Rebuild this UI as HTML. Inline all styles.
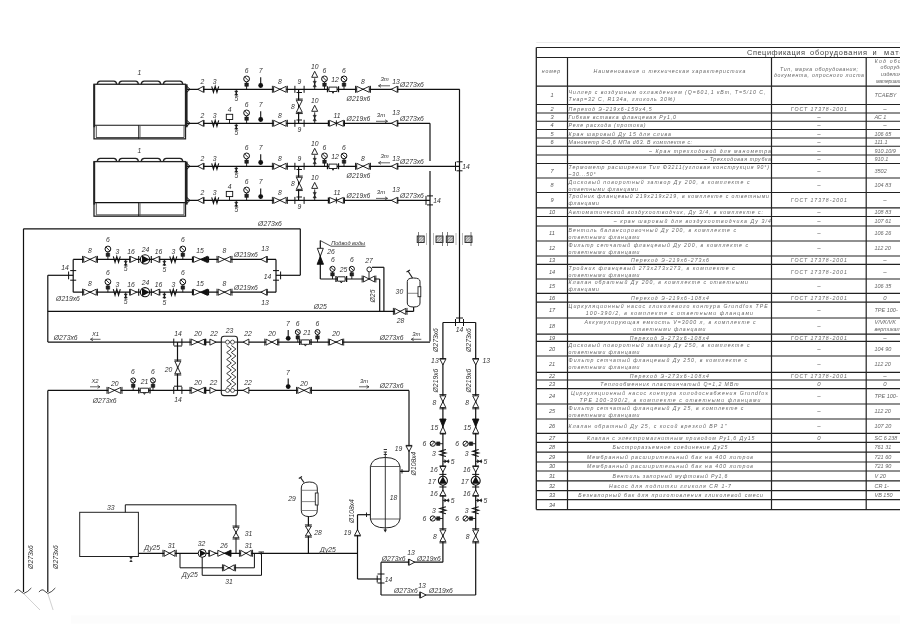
<!DOCTYPE html><html><head><meta charset="utf-8"><style>
html,body{margin:0;padding:0;background:#fff;width:900px;height:640px;overflow:hidden}
svg{display:block;font-family:"Liberation Sans",sans-serif;will-change:transform}
</style></head><body>
<svg width="900" height="640" viewBox="0 0 900 640">
<defs><pattern id="hatch" width="2" height="2" patternUnits="userSpaceOnUse" patternTransform="rotate(45)"><rect width="2" height="2" fill="#ddd"/><line x1="0" y1="0" x2="0" y2="2" stroke="#555" stroke-width="1"/></pattern></defs><rect width="900" height="640" fill="#fff"/>
<rect x="71" y="615.5" width="829" height="8" fill="#fcfcfc"/>
<line x1="536.30" y1="42.50" x2="905.00" y2="42.50" stroke="#e6e6e6" stroke-width="0.8"/>
<line x1="536.30" y1="47.50" x2="905.00" y2="47.50" stroke="#222" stroke-width="1.2"/>
<line x1="536.30" y1="57.50" x2="905.00" y2="57.50" stroke="#222" stroke-width="1.2"/>
<line x1="536.30" y1="86.20" x2="905.00" y2="86.20" stroke="#222" stroke-width="1.2"/>
<line x1="536.30" y1="104.50" x2="905.00" y2="104.50" stroke="#222" stroke-width="1.2"/>
<line x1="536.30" y1="113.00" x2="905.00" y2="113.00" stroke="#222" stroke-width="1.2"/>
<line x1="536.30" y1="121.25" x2="905.00" y2="121.25" stroke="#222" stroke-width="1.2"/>
<line x1="536.30" y1="129.50" x2="905.00" y2="129.50" stroke="#222" stroke-width="1.2"/>
<line x1="536.30" y1="138.00" x2="905.00" y2="138.00" stroke="#222" stroke-width="1.2"/>
<line x1="536.30" y1="146.25" x2="905.00" y2="146.25" stroke="#222" stroke-width="1.2"/>
<line x1="536.30" y1="155.00" x2="905.00" y2="155.00" stroke="#222" stroke-width="1.2"/>
<line x1="536.30" y1="163.50" x2="905.00" y2="163.50" stroke="#222" stroke-width="1.2"/>
<line x1="536.30" y1="178.00" x2="905.00" y2="178.00" stroke="#222" stroke-width="1.2"/>
<line x1="536.30" y1="192.50" x2="905.00" y2="192.50" stroke="#222" stroke-width="1.2"/>
<line x1="536.30" y1="207.80" x2="905.00" y2="207.80" stroke="#222" stroke-width="1.2"/>
<line x1="536.30" y1="216.50" x2="905.00" y2="216.50" stroke="#222" stroke-width="1.2"/>
<line x1="536.30" y1="226.00" x2="905.00" y2="226.00" stroke="#222" stroke-width="1.2"/>
<line x1="536.30" y1="241.00" x2="905.00" y2="241.00" stroke="#222" stroke-width="1.2"/>
<line x1="536.30" y1="256.00" x2="905.00" y2="256.00" stroke="#222" stroke-width="1.2"/>
<line x1="536.30" y1="264.40" x2="905.00" y2="264.40" stroke="#222" stroke-width="1.2"/>
<line x1="536.30" y1="279.00" x2="905.00" y2="279.00" stroke="#222" stroke-width="1.2"/>
<line x1="536.30" y1="293.30" x2="905.00" y2="293.30" stroke="#222" stroke-width="1.2"/>
<line x1="536.30" y1="302.20" x2="905.00" y2="302.20" stroke="#222" stroke-width="1.2"/>
<line x1="536.30" y1="318.00" x2="905.00" y2="318.00" stroke="#222" stroke-width="1.2"/>
<line x1="536.30" y1="334.20" x2="905.00" y2="334.20" stroke="#222" stroke-width="1.2"/>
<line x1="536.30" y1="341.40" x2="905.00" y2="341.40" stroke="#222" stroke-width="1.2"/>
<line x1="536.30" y1="356.00" x2="905.00" y2="356.00" stroke="#222" stroke-width="1.2"/>
<line x1="536.30" y1="372.30" x2="905.00" y2="372.30" stroke="#222" stroke-width="1.2"/>
<line x1="536.30" y1="380.00" x2="905.00" y2="380.00" stroke="#222" stroke-width="1.2"/>
<line x1="536.30" y1="388.60" x2="905.00" y2="388.60" stroke="#222" stroke-width="1.2"/>
<line x1="536.30" y1="404.00" x2="905.00" y2="404.00" stroke="#222" stroke-width="1.2"/>
<line x1="536.30" y1="419.00" x2="905.00" y2="419.00" stroke="#222" stroke-width="1.2"/>
<line x1="536.30" y1="433.30" x2="905.00" y2="433.30" stroke="#222" stroke-width="1.2"/>
<line x1="536.30" y1="442.30" x2="905.00" y2="442.30" stroke="#222" stroke-width="1.2"/>
<line x1="536.30" y1="452.10" x2="905.00" y2="452.10" stroke="#222" stroke-width="1.2"/>
<line x1="536.30" y1="462.00" x2="905.00" y2="462.00" stroke="#222" stroke-width="1.2"/>
<line x1="536.30" y1="471.00" x2="905.00" y2="471.00" stroke="#222" stroke-width="1.2"/>
<line x1="536.30" y1="480.90" x2="905.00" y2="480.90" stroke="#222" stroke-width="1.2"/>
<line x1="536.30" y1="490.70" x2="905.00" y2="490.70" stroke="#222" stroke-width="1.2"/>
<line x1="536.30" y1="499.70" x2="905.00" y2="499.70" stroke="#222" stroke-width="1.2"/>
<line x1="536.30" y1="509.60" x2="905.00" y2="509.60" stroke="#222" stroke-width="1.2"/>
<line x1="536.30" y1="47.50" x2="536.30" y2="509.60" stroke="#222" stroke-width="1.3"/>
<line x1="567.50" y1="57.50" x2="567.50" y2="509.60" stroke="#222" stroke-width="1.2"/>
<line x1="771.50" y1="57.50" x2="771.50" y2="509.60" stroke="#222" stroke-width="1.2"/>
<line x1="866.20" y1="57.50" x2="866.20" y2="509.60" stroke="#222" stroke-width="1.2"/>
<rect x="94" y="84.25" width="91.5" height="54.6" fill="none" stroke="#222" stroke-width="1.3"/>
<line x1="94.00" y1="125.25" x2="185.50" y2="125.25" stroke="#111" stroke-width="1.2"/>
<line x1="96.30" y1="125.25" x2="96.30" y2="137.25" stroke="#444" stroke-width="0.9"/>
<line x1="184.00" y1="125.25" x2="184.00" y2="137.25" stroke="#444" stroke-width="0.9"/>
<line x1="96.00" y1="137.55" x2="184.00" y2="137.55" stroke="#444" stroke-width="1"/>
<line x1="138.70" y1="125.25" x2="138.70" y2="138.85" stroke="#111" stroke-width="0.9"/>
<line x1="140.00" y1="125.25" x2="140.00" y2="138.85" stroke="#555" stroke-width="0.9"/>
<line x1="186.40" y1="84.25" x2="186.40" y2="127.25" stroke="#222" stroke-width="2.4"/>
<line x1="94.30" y1="84.25" x2="94.30" y2="127.25" stroke="#222" stroke-width="1.8"/>
<path d="M97.3,84.25 Q97.3,81.05 100.3,81.05 H113.8 Q116.6,81.05 116.6,84.25" fill="none" stroke="#222" stroke-width="1.3"/>
<path d="M119,84.25 Q119,81.05 122,81.05 H135.5 Q138.3,81.05 138.3,84.25" fill="none" stroke="#222" stroke-width="1.3"/>
<path d="M141.3,84.25 Q141.3,81.05 144.3,81.05 H157.8 Q160.60000000000002,81.05 160.60000000000002,84.25" fill="none" stroke="#222" stroke-width="1.3"/>
<path d="M163.4,84.25 Q163.4,81.05 166.4,81.05 H179.9 Q182.70000000000002,81.05 182.70000000000002,84.25" fill="none" stroke="#222" stroke-width="1.3"/>
<rect x="94" y="161.6" width="91.5" height="54.6" fill="none" stroke="#222" stroke-width="1.3"/>
<line x1="94.00" y1="202.60" x2="185.50" y2="202.60" stroke="#111" stroke-width="1.2"/>
<line x1="96.30" y1="202.60" x2="96.30" y2="214.60" stroke="#444" stroke-width="0.9"/>
<line x1="184.00" y1="202.60" x2="184.00" y2="214.60" stroke="#444" stroke-width="0.9"/>
<line x1="96.00" y1="214.90" x2="184.00" y2="214.90" stroke="#444" stroke-width="1"/>
<line x1="138.70" y1="202.60" x2="138.70" y2="216.20" stroke="#111" stroke-width="0.9"/>
<line x1="140.00" y1="202.60" x2="140.00" y2="216.20" stroke="#555" stroke-width="0.9"/>
<line x1="186.40" y1="161.60" x2="186.40" y2="204.60" stroke="#222" stroke-width="2.4"/>
<line x1="94.30" y1="161.60" x2="94.30" y2="204.60" stroke="#222" stroke-width="1.8"/>
<path d="M97.3,161.6 Q97.3,158.4 100.3,158.4 H113.8 Q116.6,158.4 116.6,161.6" fill="none" stroke="#222" stroke-width="1.3"/>
<path d="M119,161.6 Q119,158.4 122,158.4 H135.5 Q138.3,158.4 138.3,161.6" fill="none" stroke="#222" stroke-width="1.3"/>
<path d="M141.3,161.6 Q141.3,158.4 144.3,158.4 H157.8 Q160.60000000000002,158.4 160.60000000000002,161.6" fill="none" stroke="#222" stroke-width="1.3"/>
<path d="M163.4,161.6 Q163.4,158.4 166.4,158.4 H179.9 Q182.70000000000002,158.4 182.70000000000002,161.6" fill="none" stroke="#222" stroke-width="1.3"/>
<line x1="187.00" y1="89.30" x2="459.70" y2="89.30" stroke="#111" stroke-width="1.2"/>
<line x1="187.00" y1="123.30" x2="430.00" y2="123.30" stroke="#111" stroke-width="1.2"/>
<line x1="187.00" y1="166.30" x2="459.50" y2="166.30" stroke="#111" stroke-width="1.2"/>
<line x1="187.00" y1="200.40" x2="430.00" y2="200.40" stroke="#111" stroke-width="1.2"/>
<line x1="459.50" y1="89.30" x2="459.50" y2="322.50" stroke="#111" stroke-width="1.2"/>
<line x1="430.00" y1="123.30" x2="430.00" y2="161.00" stroke="#111" stroke-width="1.2"/>
<line x1="430.00" y1="171.00" x2="430.00" y2="341.60" stroke="#111" stroke-width="1.2"/>
<line x1="298.60" y1="89.30" x2="298.60" y2="123.30" stroke="#111" stroke-width="1.2"/>
<line x1="298.60" y1="166.30" x2="298.60" y2="200.40" stroke="#111" stroke-width="1.2"/>
<line x1="23.50" y1="228.80" x2="300.30" y2="228.80" stroke="#111" stroke-width="1.2"/>
<line x1="300.30" y1="228.80" x2="300.30" y2="275.30" stroke="#111" stroke-width="1.2"/>
<line x1="276.00" y1="275.30" x2="300.30" y2="275.30" stroke="#111" stroke-width="1.2"/>
<line x1="23.50" y1="228.80" x2="23.50" y2="592.00" stroke="#111" stroke-width="1.2"/>
<line x1="47.80" y1="275.30" x2="73.20" y2="275.30" stroke="#111" stroke-width="1.2"/>
<line x1="73.20" y1="259.40" x2="73.20" y2="292.20" stroke="#111" stroke-width="1.2"/>
<line x1="73.20" y1="259.40" x2="276.00" y2="259.40" stroke="#111" stroke-width="1.2"/>
<line x1="73.20" y1="292.20" x2="276.00" y2="292.20" stroke="#111" stroke-width="1.2"/>
<line x1="276.00" y1="259.40" x2="276.00" y2="292.20" stroke="#111" stroke-width="1.2"/>
<line x1="47.80" y1="275.30" x2="47.80" y2="342.10" stroke="#111" stroke-width="1.2"/>
<line x1="47.80" y1="311.40" x2="413.60" y2="311.40" stroke="#111" stroke-width="1.2"/>
<line x1="413.60" y1="311.40" x2="413.60" y2="306.50" stroke="#111" stroke-width="1.2"/>
<line x1="47.80" y1="342.10" x2="430.00" y2="342.10" stroke="#111" stroke-width="1.2"/>
<line x1="47.80" y1="390.40" x2="409.00" y2="390.40" stroke="#111" stroke-width="1.2"/>
<line x1="409.00" y1="390.40" x2="409.00" y2="471.30" stroke="#111" stroke-width="1.2"/>
<line x1="400.00" y1="471.30" x2="409.00" y2="471.30" stroke="#111" stroke-width="1.2"/>
<line x1="47.80" y1="390.40" x2="47.80" y2="592.00" stroke="#111" stroke-width="1.2"/>
<line x1="177.50" y1="342.10" x2="177.50" y2="390.40" stroke="#111" stroke-width="1.2"/>
<line x1="442.90" y1="322.50" x2="475.70" y2="322.50" stroke="#111" stroke-width="1.2"/>
<line x1="442.90" y1="322.50" x2="442.90" y2="562.20" stroke="#111" stroke-width="1.2"/>
<line x1="475.70" y1="322.50" x2="475.70" y2="595.00" stroke="#111" stroke-width="1.2"/>
<line x1="381.00" y1="562.20" x2="442.90" y2="562.20" stroke="#111" stroke-width="1.2"/>
<line x1="381.00" y1="595.00" x2="475.70" y2="595.00" stroke="#111" stroke-width="1.2"/>
<line x1="381.00" y1="562.20" x2="381.00" y2="595.00" stroke="#111" stroke-width="1.2"/>
<line x1="357.50" y1="579.00" x2="381.00" y2="579.00" stroke="#111" stroke-width="1.2"/>
<line x1="357.50" y1="514.70" x2="357.50" y2="579.00" stroke="#111" stroke-width="1.2"/>
<line x1="357.50" y1="514.70" x2="370.40" y2="514.70" stroke="#111" stroke-width="1.2"/>
<line x1="138.40" y1="553.30" x2="357.50" y2="553.30" stroke="#111" stroke-width="1.2"/>
<rect x="79.7" y="512.3" width="58.7" height="44.2" fill="none" stroke="#222" stroke-width="1"/>
<polyline points="125.30,512.30 125.30,504.80 236.00,504.80 236.00,553.30" stroke="#111" stroke-width="1" fill="none"/>
<polyline points="180.00,553.30 180.00,567.80 254.40,567.80 254.40,553.30" stroke="#111" stroke-width="1" fill="none"/>
<polyline points="202.20,553.30 202.20,575.30 261.50,575.30 261.50,553.30" stroke="#111" stroke-width="1" fill="none"/>
<line x1="308.40" y1="516.60" x2="308.40" y2="553.30" stroke="#111" stroke-width="1.2"/>
<line x1="320.30" y1="240.60" x2="320.30" y2="279.00" stroke="#111" stroke-width="1.2"/>
<line x1="320.30" y1="279.00" x2="379.70" y2="279.00" stroke="#111" stroke-width="1.2"/>
<line x1="379.70" y1="279.00" x2="379.70" y2="311.40" stroke="#111" stroke-width="1.2"/>
<line x1="372.00" y1="267.30" x2="383.90" y2="267.30" stroke="#111" stroke-width="1.2"/>
<line x1="383.90" y1="267.30" x2="383.90" y2="311.40" stroke="#111" stroke-width="1.2"/>
<path d="M186.8,86.3 L190,89.3 L186.8,92.3" fill="none" stroke="#111" stroke-width="1"/>
<g transform="translate(200.60,89.30) rotate(0)"><path d="M-2.85,0 L2.85,-3.0 L2.85,3.0 Z" fill="white" stroke="#111" stroke-width="0.9"/><path d="M3.45,-3.3 V3.3" stroke="#111" stroke-width="0.9"/></g>
<g transform="translate(215.20,89.30) rotate(0)"><path d="M-3.5,-3 L-1.75,3 L0,-3 L1.75,3 L3.5,-3" fill="none" stroke="#111" stroke-width="1.1"/></g>
<g transform="translate(236.30,89.30) rotate(0)"><path d="M0,0 V6.5" stroke="#111" stroke-width="0.9"/><path d="M-1.6,1.8 L1.6,1.8 L-1.6,5.8 L1.6,5.8 Z" fill="#222" stroke="#111" stroke-width="0.5"/></g>
<g transform="translate(246.60,89.30) rotate(0)"><path d="M0,0 V-7.5" stroke="#111" stroke-width="0.9"/><path d="M-1.8,-6.3 L1.8,-6.3 L1.8,-3 L-1.8,-3 Z" fill="#222" stroke="#111" stroke-width="0.5"/><circle cx="0" cy="-10.4" r="2.9" fill="white" stroke="#111" stroke-width="1"/><path d="M-2.03,-12.43 L2.03,-8.370000000000001" stroke="#111" stroke-width="0.9"/></g>
<g transform="translate(260.70,89.30) rotate(0)"><path d="M0,-2 V-12" stroke="#111" stroke-width="1.1"/><circle cx="0" cy="-3.8" r="2.4" fill="#111"/></g>
<g transform="translate(279.90,89.30) rotate(0)"><path d="M-6.3,-3.0 L0,0 L-6.3,3.0 Z M6.3,-3.0 L0,0 L6.3,3.0 Z" fill="white" stroke="#111" stroke-width="0.9"/><path d="M-7.5,-3.5 V3.5 M7.5,-3.5 V3.5" stroke="#111" stroke-width="0.9" stroke-width="1.3"/></g>
<g transform="translate(299.50,89.30) rotate(0)"><path d="M-4.6,-3.5 V3.5 M4.6,-3.5 V3.5" stroke="#111" stroke-width="1"/></g>
<g transform="translate(314.70,89.30) rotate(0)"><path d="M0,0 V-11" stroke="#111" stroke-width="0.9"/><path d="M-1.6,-2.5 L1.6,-2.5 L-1.6,-8 L1.6,-8 Z" fill="#333" stroke="#111" stroke-width="0.5"/><path d="M-3,-12 L3,-12 L0,-18 Z" fill="white" stroke="#111" stroke-width="0.9"/></g>
<text x="202.30" y="83.60" font-size="6.8" text-anchor="middle" fill="#333" font-style="italic">2</text>
<text x="214.70" y="83.60" font-size="6.8" text-anchor="middle" fill="#333" font-style="italic">3</text>
<text x="236.30" y="101.30" font-size="6.8" text-anchor="middle" fill="#333" font-style="italic">5</text>
<text x="246.60" y="73.10" font-size="6.8" text-anchor="middle" fill="#333" font-style="italic">6</text>
<text x="260.70" y="73.10" font-size="6.8" text-anchor="middle" fill="#333" font-style="italic">7</text>
<text x="279.90" y="83.50" font-size="6.8" text-anchor="middle" fill="#333" font-style="italic">8</text>
<text x="314.70" y="68.80" font-size="6.8" text-anchor="middle" fill="#333" font-style="italic">10</text>
<text x="299.50" y="83.50" font-size="6.8" text-anchor="middle" fill="#333" font-style="italic">9</text>
<g transform="translate(324.50,89.30) rotate(0)"><path d="M0,0 V-7.5" stroke="#111" stroke-width="0.9"/><path d="M-1.8,-6.3 L1.8,-6.3 L1.8,-3 L-1.8,-3 Z" fill="#222" stroke="#111" stroke-width="0.5"/><circle cx="0" cy="-10.4" r="2.9" fill="white" stroke="#111" stroke-width="1"/><path d="M-2.03,-12.43 L2.03,-8.370000000000001" stroke="#111" stroke-width="0.9"/></g>
<text x="324.50" y="73.00" font-size="6.8" text-anchor="middle" fill="#333" font-style="italic">6</text>
<g transform="translate(333.00,89.30) rotate(0)"><path d="M-5.5,-3 V3 M5.5,-3 V3" stroke="#111" stroke-width="1.3"/><path d="M-4.0,-2.2 H4.0 V2.2 H-4.0 Z" fill="white" stroke="#111" stroke-width="0.9"/><path d="M-1,2.2 L0,4 L1,2.2" fill="none" stroke="#111" stroke-width="0.9"/></g>
<text x="335.00" y="82.30" font-size="6.8" text-anchor="middle" fill="#333" font-style="italic">12</text>
<g transform="translate(344.00,89.30) rotate(0)"><path d="M0,0 V-7.5" stroke="#111" stroke-width="0.9"/><path d="M-1.8,-6.3 L1.8,-6.3 L1.8,-3 L-1.8,-3 Z" fill="#222" stroke="#111" stroke-width="0.5"/><circle cx="0" cy="-10.4" r="2.9" fill="white" stroke="#111" stroke-width="1"/><path d="M-2.03,-12.43 L2.03,-8.370000000000001" stroke="#111" stroke-width="0.9"/></g>
<text x="344.00" y="73.00" font-size="6.8" text-anchor="middle" fill="#333" font-style="italic">6</text>
<g transform="translate(363.00,89.30) rotate(0)"><path d="M-6.3,-3.0 L0,0 L-6.3,3.0 Z M6.3,-3.0 L0,0 L6.3,3.0 Z" fill="white" stroke="#111" stroke-width="0.9"/><path d="M-7.5,-3.5 V3.5 M7.5,-3.5 V3.5" stroke="#111" stroke-width="0.9" stroke-width="1.3"/></g>
<text x="363.00" y="83.50" font-size="6.8" text-anchor="middle" fill="#333" font-style="italic">8</text>
<text x="358.50" y="100.80" font-size="6.8" text-anchor="middle" fill="#333" font-style="italic">Ø219x6</text>
<text x="384.70" y="81.30" font-size="6" text-anchor="middle" fill="#333" font-style="italic">3т</text>
<path d="M390,85.8 H378.5 M381,84.3 L378.5,85.8 L381,87.3" fill="none" stroke="#222" stroke-width="0.7"/>
<g transform="translate(394.30,89.30) rotate(0)"><path d="M-3.0,0 L3.0,-3.0 L3.0,3.0 Z" fill="white" stroke="#111" stroke-width="0.9"/><path d="M3.6,-3.3 V3.3" stroke="#111" stroke-width="0.9"/></g>
<text x="396.00" y="84.30" font-size="6.8" text-anchor="middle" fill="#333" font-style="italic">13</text>
<text x="412.00" y="86.80" font-size="6.8" text-anchor="middle" fill="#333" font-style="italic">Ø273x6</text>
<path d="M186.8,120.3 L190,123.3 L186.8,126.3" fill="none" stroke="#111" stroke-width="1"/>
<g transform="translate(200.60,123.30) rotate(0)"><path d="M-2.85,0 L2.85,-3.0 L2.85,3.0 Z" fill="white" stroke="#111" stroke-width="0.9"/><path d="M3.45,-3.3 V3.3" stroke="#111" stroke-width="0.9"/></g>
<g transform="translate(215.20,123.30) rotate(0)"><path d="M-3.5,-3 L-1.75,3 L0,-3 L1.75,3 L3.5,-3" fill="none" stroke="#111" stroke-width="1.1"/></g>
<g transform="translate(236.30,123.30) rotate(0)"><path d="M0,0 V6.5" stroke="#111" stroke-width="0.9"/><path d="M-1.6,1.8 L1.6,1.8 L-1.6,5.8 L1.6,5.8 Z" fill="#222" stroke="#111" stroke-width="0.5"/></g>
<g transform="translate(246.60,123.30) rotate(0)"><path d="M0,0 V-7.5" stroke="#111" stroke-width="0.9"/><path d="M-1.8,-6.3 L1.8,-6.3 L1.8,-3 L-1.8,-3 Z" fill="#222" stroke="#111" stroke-width="0.5"/><circle cx="0" cy="-10.4" r="2.9" fill="white" stroke="#111" stroke-width="1"/><path d="M-2.03,-12.43 L2.03,-8.370000000000001" stroke="#111" stroke-width="0.9"/></g>
<g transform="translate(260.70,123.30) rotate(0)"><path d="M0,-2 V-12" stroke="#111" stroke-width="1.1"/><circle cx="0" cy="-3.8" r="2.4" fill="#111"/></g>
<g transform="translate(279.90,123.30) rotate(0)"><path d="M-6.3,-3.0 L0,0 L-6.3,3.0 Z M6.3,-3.0 L0,0 L6.3,3.0 Z" fill="white" stroke="#111" stroke-width="0.9"/><path d="M-7.5,-3.5 V3.5 M7.5,-3.5 V3.5" stroke="#111" stroke-width="0.9" stroke-width="1.3"/></g>
<g transform="translate(299.50,123.30) rotate(0)"><path d="M-4.6,-3.5 V3.5 M4.6,-3.5 V3.5" stroke="#111" stroke-width="1"/></g>
<g transform="translate(314.70,123.30) rotate(0)"><path d="M0,0 V-11" stroke="#111" stroke-width="0.9"/><path d="M-1.6,-2.5 L1.6,-2.5 L-1.6,-8 L1.6,-8 Z" fill="#333" stroke="#111" stroke-width="0.5"/><path d="M-3,-12 L3,-12 L0,-18 Z" fill="white" stroke="#111" stroke-width="0.9"/></g>
<text x="202.30" y="117.60" font-size="6.8" text-anchor="middle" fill="#333" font-style="italic">2</text>
<text x="214.70" y="117.60" font-size="6.8" text-anchor="middle" fill="#333" font-style="italic">3</text>
<text x="236.30" y="135.30" font-size="6.8" text-anchor="middle" fill="#333" font-style="italic">5</text>
<text x="246.60" y="107.10" font-size="6.8" text-anchor="middle" fill="#333" font-style="italic">6</text>
<text x="260.70" y="107.10" font-size="6.8" text-anchor="middle" fill="#333" font-style="italic">7</text>
<text x="279.90" y="117.50" font-size="6.8" text-anchor="middle" fill="#333" font-style="italic">8</text>
<text x="314.70" y="102.80" font-size="6.8" text-anchor="middle" fill="#333" font-style="italic">10</text>
<rect x="226.3" y="114.3" width="6.4" height="5.2" fill="white" stroke="#111" stroke-width="0.9"/>
<line x1="229.50" y1="119.50" x2="229.50" y2="123.30" stroke="#111" stroke-width="0.9"/>
<text x="229.70" y="112.00" font-size="6.8" text-anchor="middle" fill="#333" font-style="italic">4</text>
<text x="299.50" y="131.70" font-size="6.8" text-anchor="middle" fill="#333" font-style="italic">9</text>
<g transform="translate(336.4,123.3)"><path d="M-8,-3 V3 M8,-3 V3" stroke="#111" stroke-width="1.2"/><path d="M-7,-3 L0,0 L-7,3 Z M7,-3 L0,0 L7,3 Z" fill="white" stroke="#111" stroke-width="0.9"/><path d="M0,-3 V3" stroke="#111" stroke-width="0.9"/></g>
<text x="337.00" y="118.00" font-size="6.8" text-anchor="middle" fill="#333" font-style="italic">11</text>
<text x="358.50" y="120.80" font-size="6.8" text-anchor="middle" fill="#333" font-style="italic">Ø219x6</text>
<text x="381.00" y="116.80" font-size="6" text-anchor="middle" fill="#333" font-style="italic">3т</text>
<path d="M376,121.3 H387.5 M385,119.8 L387.5,121.3 L385,122.8" fill="none" stroke="#222" stroke-width="0.7"/>
<g transform="translate(394.30,123.30) rotate(0)"><path d="M-3.0,0 L3.0,-3.0 L3.0,3.0 Z" fill="white" stroke="#111" stroke-width="0.9"/><path d="M3.6,-3.3 V3.3" stroke="#111" stroke-width="0.9"/></g>
<text x="396.00" y="114.80" font-size="6.8" text-anchor="middle" fill="#333" font-style="italic">13</text>
<text x="412.00" y="120.80" font-size="6.8" text-anchor="middle" fill="#333" font-style="italic">Ø273x6</text>
<g transform="translate(299.30,106.30) rotate(90)"><path d="M-6.05,-3.0 L0,0 L-6.05,3.0 Z M6.05,-3.0 L0,0 L6.05,3.0 Z" fill="white" stroke="#111" stroke-width="0.9"/><path d="M-7.25,-3.5 V3.5 M7.25,-3.5 V3.5" stroke="#111" stroke-width="0.9" stroke-width="1.3"/></g>
<line x1="296.50" y1="92.50" x2="302.00" y2="92.50" stroke="#111" stroke-width="1"/>
<line x1="296.50" y1="120.00" x2="302.00" y2="120.00" stroke="#111" stroke-width="1"/>
<text x="293.00" y="108.80" font-size="6.8" text-anchor="middle" fill="#333" font-style="italic">8</text>
<path d="M186.8,163.3 L190,166.3 L186.8,169.3" fill="none" stroke="#111" stroke-width="1"/>
<g transform="translate(200.60,166.30) rotate(0)"><path d="M-2.85,0 L2.85,-3.0 L2.85,3.0 Z" fill="white" stroke="#111" stroke-width="0.9"/><path d="M3.45,-3.3 V3.3" stroke="#111" stroke-width="0.9"/></g>
<g transform="translate(215.20,166.30) rotate(0)"><path d="M-3.5,-3 L-1.75,3 L0,-3 L1.75,3 L3.5,-3" fill="none" stroke="#111" stroke-width="1.1"/></g>
<g transform="translate(236.30,166.30) rotate(0)"><path d="M0,0 V6.5" stroke="#111" stroke-width="0.9"/><path d="M-1.6,1.8 L1.6,1.8 L-1.6,5.8 L1.6,5.8 Z" fill="#222" stroke="#111" stroke-width="0.5"/></g>
<g transform="translate(246.60,166.30) rotate(0)"><path d="M0,0 V-7.5" stroke="#111" stroke-width="0.9"/><path d="M-1.8,-6.3 L1.8,-6.3 L1.8,-3 L-1.8,-3 Z" fill="#222" stroke="#111" stroke-width="0.5"/><circle cx="0" cy="-10.4" r="2.9" fill="white" stroke="#111" stroke-width="1"/><path d="M-2.03,-12.43 L2.03,-8.370000000000001" stroke="#111" stroke-width="0.9"/></g>
<g transform="translate(260.70,166.30) rotate(0)"><path d="M0,-2 V-12" stroke="#111" stroke-width="1.1"/><circle cx="0" cy="-3.8" r="2.4" fill="#111"/></g>
<g transform="translate(279.90,166.30) rotate(0)"><path d="M-6.3,-3.0 L0,0 L-6.3,3.0 Z M6.3,-3.0 L0,0 L6.3,3.0 Z" fill="white" stroke="#111" stroke-width="0.9"/><path d="M-7.5,-3.5 V3.5 M7.5,-3.5 V3.5" stroke="#111" stroke-width="0.9" stroke-width="1.3"/></g>
<g transform="translate(299.50,166.30) rotate(0)"><path d="M-4.6,-3.5 V3.5 M4.6,-3.5 V3.5" stroke="#111" stroke-width="1"/></g>
<g transform="translate(314.70,166.30) rotate(0)"><path d="M0,0 V-11" stroke="#111" stroke-width="0.9"/><path d="M-1.6,-2.5 L1.6,-2.5 L-1.6,-8 L1.6,-8 Z" fill="#333" stroke="#111" stroke-width="0.5"/><path d="M-3,-12 L3,-12 L0,-18 Z" fill="white" stroke="#111" stroke-width="0.9"/></g>
<text x="202.30" y="160.60" font-size="6.8" text-anchor="middle" fill="#333" font-style="italic">2</text>
<text x="214.70" y="160.60" font-size="6.8" text-anchor="middle" fill="#333" font-style="italic">3</text>
<text x="236.30" y="178.30" font-size="6.8" text-anchor="middle" fill="#333" font-style="italic">5</text>
<text x="246.60" y="150.10" font-size="6.8" text-anchor="middle" fill="#333" font-style="italic">6</text>
<text x="260.70" y="150.10" font-size="6.8" text-anchor="middle" fill="#333" font-style="italic">7</text>
<text x="279.90" y="160.50" font-size="6.8" text-anchor="middle" fill="#333" font-style="italic">8</text>
<text x="314.70" y="145.80" font-size="6.8" text-anchor="middle" fill="#333" font-style="italic">10</text>
<text x="299.50" y="160.50" font-size="6.8" text-anchor="middle" fill="#333" font-style="italic">9</text>
<g transform="translate(324.50,166.30) rotate(0)"><path d="M0,0 V-7.5" stroke="#111" stroke-width="0.9"/><path d="M-1.8,-6.3 L1.8,-6.3 L1.8,-3 L-1.8,-3 Z" fill="#222" stroke="#111" stroke-width="0.5"/><circle cx="0" cy="-10.4" r="2.9" fill="white" stroke="#111" stroke-width="1"/><path d="M-2.03,-12.43 L2.03,-8.370000000000001" stroke="#111" stroke-width="0.9"/></g>
<text x="324.50" y="150.00" font-size="6.8" text-anchor="middle" fill="#333" font-style="italic">6</text>
<g transform="translate(333.00,166.30) rotate(0)"><path d="M-5.5,-3 V3 M5.5,-3 V3" stroke="#111" stroke-width="1.3"/><path d="M-4.0,-2.2 H4.0 V2.2 H-4.0 Z" fill="white" stroke="#111" stroke-width="0.9"/><path d="M-1,2.2 L0,4 L1,2.2" fill="none" stroke="#111" stroke-width="0.9"/></g>
<text x="335.00" y="159.30" font-size="6.8" text-anchor="middle" fill="#333" font-style="italic">12</text>
<g transform="translate(344.00,166.30) rotate(0)"><path d="M0,0 V-7.5" stroke="#111" stroke-width="0.9"/><path d="M-1.8,-6.3 L1.8,-6.3 L1.8,-3 L-1.8,-3 Z" fill="#222" stroke="#111" stroke-width="0.5"/><circle cx="0" cy="-10.4" r="2.9" fill="white" stroke="#111" stroke-width="1"/><path d="M-2.03,-12.43 L2.03,-8.370000000000001" stroke="#111" stroke-width="0.9"/></g>
<text x="344.00" y="150.00" font-size="6.8" text-anchor="middle" fill="#333" font-style="italic">6</text>
<g transform="translate(363.00,166.30) rotate(0)"><path d="M-6.3,-3.0 L0,0 L-6.3,3.0 Z M6.3,-3.0 L0,0 L6.3,3.0 Z" fill="white" stroke="#111" stroke-width="0.9"/><path d="M-7.5,-3.5 V3.5 M7.5,-3.5 V3.5" stroke="#111" stroke-width="0.9" stroke-width="1.3"/></g>
<text x="363.00" y="160.50" font-size="6.8" text-anchor="middle" fill="#333" font-style="italic">8</text>
<text x="358.50" y="177.80" font-size="6.8" text-anchor="middle" fill="#333" font-style="italic">Ø219x6</text>
<text x="384.70" y="158.30" font-size="6" text-anchor="middle" fill="#333" font-style="italic">3т</text>
<path d="M390,162.8 H378.5 M381,161.3 L378.5,162.8 L381,164.3" fill="none" stroke="#222" stroke-width="0.7"/>
<g transform="translate(394.30,166.30) rotate(0)"><path d="M-3.0,0 L3.0,-3.0 L3.0,3.0 Z" fill="white" stroke="#111" stroke-width="0.9"/><path d="M3.6,-3.3 V3.3" stroke="#111" stroke-width="0.9"/></g>
<text x="396.00" y="161.30" font-size="6.8" text-anchor="middle" fill="#333" font-style="italic">13</text>
<text x="412.00" y="163.80" font-size="6.8" text-anchor="middle" fill="#333" font-style="italic">Ø273x6</text>
<path d="M186.8,197.4 L190,200.4 L186.8,203.4" fill="none" stroke="#111" stroke-width="1"/>
<g transform="translate(200.60,200.40) rotate(0)"><path d="M-2.85,0 L2.85,-3.0 L2.85,3.0 Z" fill="white" stroke="#111" stroke-width="0.9"/><path d="M3.45,-3.3 V3.3" stroke="#111" stroke-width="0.9"/></g>
<g transform="translate(215.20,200.40) rotate(0)"><path d="M-3.5,-3 L-1.75,3 L0,-3 L1.75,3 L3.5,-3" fill="none" stroke="#111" stroke-width="1.1"/></g>
<g transform="translate(236.30,200.40) rotate(0)"><path d="M0,0 V6.5" stroke="#111" stroke-width="0.9"/><path d="M-1.6,1.8 L1.6,1.8 L-1.6,5.8 L1.6,5.8 Z" fill="#222" stroke="#111" stroke-width="0.5"/></g>
<g transform="translate(246.60,200.40) rotate(0)"><path d="M0,0 V-7.5" stroke="#111" stroke-width="0.9"/><path d="M-1.8,-6.3 L1.8,-6.3 L1.8,-3 L-1.8,-3 Z" fill="#222" stroke="#111" stroke-width="0.5"/><circle cx="0" cy="-10.4" r="2.9" fill="white" stroke="#111" stroke-width="1"/><path d="M-2.03,-12.43 L2.03,-8.370000000000001" stroke="#111" stroke-width="0.9"/></g>
<g transform="translate(260.70,200.40) rotate(0)"><path d="M0,-2 V-12" stroke="#111" stroke-width="1.1"/><circle cx="0" cy="-3.8" r="2.4" fill="#111"/></g>
<g transform="translate(279.90,200.40) rotate(0)"><path d="M-6.3,-3.0 L0,0 L-6.3,3.0 Z M6.3,-3.0 L0,0 L6.3,3.0 Z" fill="white" stroke="#111" stroke-width="0.9"/><path d="M-7.5,-3.5 V3.5 M7.5,-3.5 V3.5" stroke="#111" stroke-width="0.9" stroke-width="1.3"/></g>
<g transform="translate(299.50,200.40) rotate(0)"><path d="M-4.6,-3.5 V3.5 M4.6,-3.5 V3.5" stroke="#111" stroke-width="1"/></g>
<g transform="translate(314.70,200.40) rotate(0)"><path d="M0,0 V-11" stroke="#111" stroke-width="0.9"/><path d="M-1.6,-2.5 L1.6,-2.5 L-1.6,-8 L1.6,-8 Z" fill="#333" stroke="#111" stroke-width="0.5"/><path d="M-3,-12 L3,-12 L0,-18 Z" fill="white" stroke="#111" stroke-width="0.9"/></g>
<text x="202.30" y="194.70" font-size="6.8" text-anchor="middle" fill="#333" font-style="italic">2</text>
<text x="214.70" y="194.70" font-size="6.8" text-anchor="middle" fill="#333" font-style="italic">3</text>
<text x="236.30" y="212.40" font-size="6.8" text-anchor="middle" fill="#333" font-style="italic">5</text>
<text x="246.60" y="184.20" font-size="6.8" text-anchor="middle" fill="#333" font-style="italic">6</text>
<text x="260.70" y="184.20" font-size="6.8" text-anchor="middle" fill="#333" font-style="italic">7</text>
<text x="279.90" y="194.60" font-size="6.8" text-anchor="middle" fill="#333" font-style="italic">8</text>
<text x="314.70" y="179.90" font-size="6.8" text-anchor="middle" fill="#333" font-style="italic">10</text>
<rect x="226.3" y="191.4" width="6.4" height="5.2" fill="white" stroke="#111" stroke-width="0.9"/>
<line x1="229.50" y1="196.60" x2="229.50" y2="200.40" stroke="#111" stroke-width="0.9"/>
<text x="229.70" y="189.10" font-size="6.8" text-anchor="middle" fill="#333" font-style="italic">4</text>
<text x="299.50" y="208.80" font-size="6.8" text-anchor="middle" fill="#333" font-style="italic">9</text>
<g transform="translate(336.4,200.4)"><path d="M-8,-3 V3 M8,-3 V3" stroke="#111" stroke-width="1.2"/><path d="M-7,-3 L0,0 L-7,3 Z M7,-3 L0,0 L7,3 Z" fill="white" stroke="#111" stroke-width="0.9"/><path d="M0,-3 V3" stroke="#111" stroke-width="0.9"/></g>
<text x="337.00" y="195.10" font-size="6.8" text-anchor="middle" fill="#333" font-style="italic">11</text>
<text x="358.50" y="197.90" font-size="6.8" text-anchor="middle" fill="#333" font-style="italic">Ø219x6</text>
<text x="381.00" y="193.90" font-size="6" text-anchor="middle" fill="#333" font-style="italic">3т</text>
<path d="M376,198.4 H387.5 M385,196.9 L387.5,198.4 L385,199.9" fill="none" stroke="#222" stroke-width="0.7"/>
<g transform="translate(394.30,200.40) rotate(0)"><path d="M-3.0,0 L3.0,-3.0 L3.0,3.0 Z" fill="white" stroke="#111" stroke-width="0.9"/><path d="M3.6,-3.3 V3.3" stroke="#111" stroke-width="0.9"/></g>
<text x="396.00" y="191.90" font-size="6.8" text-anchor="middle" fill="#333" font-style="italic">13</text>
<text x="412.00" y="197.90" font-size="6.8" text-anchor="middle" fill="#333" font-style="italic">Ø273x6</text>
<g transform="translate(299.30,183.30) rotate(90)"><path d="M-6.05,-3.0 L0,0 L-6.05,3.0 Z M6.05,-3.0 L0,0 L6.05,3.0 Z" fill="white" stroke="#111" stroke-width="0.9"/><path d="M-7.25,-3.5 V3.5 M7.25,-3.5 V3.5" stroke="#111" stroke-width="0.9" stroke-width="1.3"/></g>
<line x1="296.50" y1="169.50" x2="302.00" y2="169.50" stroke="#111" stroke-width="1"/>
<line x1="296.50" y1="197.00" x2="302.00" y2="197.00" stroke="#111" stroke-width="1"/>
<text x="293.00" y="185.80" font-size="6.8" text-anchor="middle" fill="#333" font-style="italic">8</text>
<text x="139.50" y="75.00" font-size="6.8" text-anchor="middle" fill="#333" font-style="italic">1</text>
<text x="139.50" y="152.50" font-size="6.8" text-anchor="middle" fill="#333" font-style="italic">1</text>
<g transform="translate(459.50,166.30) rotate(90)"><path d="M-4.5,-3 V3 M4.5,-3 V3" stroke="#111" stroke-width="1"/></g>
<line x1="455.50" y1="161.80" x2="455.50" y2="170.80" stroke="#111" stroke-width="1"/>
<text x="466.00" y="169.30" font-size="6.8" text-anchor="middle" fill="#333" font-style="italic">14</text>
<g transform="translate(430.00,200.40) rotate(90)"><path d="M-4.5,-3 V3 M4.5,-3 V3" stroke="#111" stroke-width="1"/></g>
<line x1="426.00" y1="195.90" x2="426.00" y2="204.90" stroke="#111" stroke-width="1"/>
<text x="437.00" y="203.40" font-size="6.8" text-anchor="middle" fill="#333" font-style="italic">14</text>
<rect x="417.2" y="236" width="7" height="6.5" fill="url(#hatch)" stroke="#222" stroke-width="0.9"/>
<rect x="436" y="236" width="7" height="6.5" fill="url(#hatch)" stroke="#222" stroke-width="0.9"/>
<rect x="446.3" y="236" width="7" height="6.5" fill="url(#hatch)" stroke="#222" stroke-width="0.9"/>
<rect x="465" y="236" width="7" height="6.5" fill="url(#hatch)" stroke="#222" stroke-width="0.9"/>
<line x1="418.50" y1="232.00" x2="418.50" y2="246.00" stroke="#444" stroke-width="0.7"/>
<line x1="442.50" y1="232.00" x2="442.50" y2="246.00" stroke="#444" stroke-width="0.7"/>
<line x1="447.50" y1="232.00" x2="447.50" y2="246.00" stroke="#444" stroke-width="0.7"/>
<line x1="471.00" y1="232.00" x2="471.00" y2="246.00" stroke="#444" stroke-width="0.7"/>
<line x1="426.50" y1="233.00" x2="426.50" y2="245.00" stroke="#aaa" stroke-width="0.8"/>
<line x1="433.50" y1="233.00" x2="433.50" y2="245.00" stroke="#aaa" stroke-width="0.8"/>
<line x1="456.00" y1="233.00" x2="456.00" y2="245.00" stroke="#aaa" stroke-width="0.8"/>
<line x1="462.50" y1="233.00" x2="462.50" y2="245.00" stroke="#aaa" stroke-width="0.8"/>
<g transform="translate(90.00,259.40) rotate(0)"><path d="M-6.3,-3.0 L0,0 L-6.3,3.0 Z M6.3,-3.0 L0,0 L6.3,3.0 Z" fill="white" stroke="#111" stroke-width="0.9"/><path d="M-7.5,-3.5 V3.5 M7.5,-3.5 V3.5" stroke="#111" stroke-width="0.9" stroke-width="1.3"/></g>
<g transform="translate(107.90,259.40) rotate(0)"><path d="M0,0 V-7.5" stroke="#111" stroke-width="0.9"/><path d="M-1.8,-6.3 L1.8,-6.3 L1.8,-3 L-1.8,-3 Z" fill="#222" stroke="#111" stroke-width="0.5"/><circle cx="0" cy="-10.4" r="2.9" fill="white" stroke="#111" stroke-width="1"/><path d="M-2.03,-12.43 L2.03,-8.370000000000001" stroke="#111" stroke-width="0.9"/></g>
<g transform="translate(116.80,259.40) rotate(0)"><path d="M-3.5,-3 L-1.75,3 L0,-3 L1.75,3 L3.5,-3" fill="none" stroke="#111" stroke-width="1.1"/></g>
<g transform="translate(125.70,259.40) rotate(0)"><path d="M0,0 V6.5" stroke="#111" stroke-width="0.9"/><path d="M-1.6,1.8 L1.6,1.8 L-1.6,5.8 L1.6,5.8 Z" fill="#222" stroke="#111" stroke-width="0.5"/></g>
<g transform="translate(133.50,259.40) rotate(180)"><path d="M-3.25,0 L3.25,-3.0 L3.25,3.0 Z" fill="white" stroke="#111" stroke-width="0.9"/><path d="M3.85,-3.3 V3.3" stroke="#111" stroke-width="0.9"/></g>
<g transform="translate(145.00,259.40) rotate(0)"><path d="M-6.3,-3.5 V3.5 M6.3,-3.5 V3.5" stroke="#111" stroke-width="1.1"/><circle r="4.6" fill="white" stroke="#111" stroke-width="1.1"/><path d="M-3,-4 L4.6,0 L-3,4 Z" fill="#111"/></g>
<g transform="translate(156.00,259.40) rotate(0)"><path d="M-3.25,0 L3.25,-3.0 L3.25,3.0 Z" fill="white" stroke="#111" stroke-width="0.9"/><path d="M3.85,-3.3 V3.3" stroke="#111" stroke-width="0.9"/></g>
<g transform="translate(164.40,259.40) rotate(0)"><path d="M0,0 V6.5" stroke="#111" stroke-width="0.9"/><path d="M-1.6,1.8 L1.6,1.8 L-1.6,5.8 L1.6,5.8 Z" fill="#222" stroke="#111" stroke-width="0.5"/></g>
<g transform="translate(173.30,259.40) rotate(0)"><path d="M-3.5,-3 L-1.75,3 L0,-3 L1.75,3 L3.5,-3" fill="none" stroke="#111" stroke-width="1.1"/></g>
<g transform="translate(182.80,259.40) rotate(0)"><path d="M0,0 V-7.5" stroke="#111" stroke-width="0.9"/><path d="M-1.8,-6.3 L1.8,-6.3 L1.8,-3 L-1.8,-3 Z" fill="#222" stroke="#111" stroke-width="0.5"/><circle cx="0" cy="-10.4" r="2.9" fill="white" stroke="#111" stroke-width="1"/><path d="M-2.03,-12.43 L2.03,-8.370000000000001" stroke="#111" stroke-width="0.9"/></g>
<g transform="translate(200.50,259.40) rotate(0)"><path d="M-8,-3 V3 M8,-3 V3" stroke="#111" stroke-width="1.2"/><path d="M-7,-3 L0,0 L-7,3 Z" fill="white" stroke="#111" stroke-width="0.9"/><path d="M7,-3.2 L0,0 L7,3.2 Z" fill="#111" stroke="#111" stroke-width="0.9"/></g>
<g transform="translate(224.50,259.40) rotate(0)"><path d="M-6.3,-3.0 L0,0 L-6.3,3.0 Z M6.3,-3.0 L0,0 L6.3,3.0 Z" fill="white" stroke="#111" stroke-width="0.9"/><path d="M-7.5,-3.5 V3.5 M7.5,-3.5 V3.5" stroke="#111" stroke-width="0.9" stroke-width="1.3"/></g>
<g transform="translate(263.80,259.40) rotate(0)"><path d="M-2.9,0 L2.9,-3.0 L2.9,3.0 Z" fill="white" stroke="#111" stroke-width="0.9"/><path d="M3.5,-3.3 V3.3" stroke="#111" stroke-width="0.9"/></g>
<text x="90.00" y="253.40" font-size="6.8" text-anchor="middle" fill="#333" font-style="italic">8</text>
<text x="107.90" y="241.90" font-size="6.8" text-anchor="middle" fill="#333" font-style="italic">6</text>
<text x="117.50" y="254.40" font-size="6.8" text-anchor="middle" fill="#333" font-style="italic">3</text>
<text x="125.70" y="271.40" font-size="6.8" text-anchor="middle" fill="#333" font-style="italic">5</text>
<text x="131.00" y="253.90" font-size="6.8" text-anchor="middle" fill="#333" font-style="italic">16</text>
<text x="145.50" y="251.90" font-size="6.8" text-anchor="middle" fill="#333" font-style="italic">24</text>
<text x="158.60" y="253.90" font-size="6.8" text-anchor="middle" fill="#333" font-style="italic">16</text>
<text x="164.40" y="271.90" font-size="6.8" text-anchor="middle" fill="#333" font-style="italic">5</text>
<text x="173.30" y="254.40" font-size="6.8" text-anchor="middle" fill="#333" font-style="italic">3</text>
<text x="182.80" y="241.90" font-size="6.8" text-anchor="middle" fill="#333" font-style="italic">6</text>
<text x="200.00" y="253.40" font-size="6.8" text-anchor="middle" fill="#333" font-style="italic">15</text>
<text x="224.50" y="253.40" font-size="6.8" text-anchor="middle" fill="#333" font-style="italic">8</text>
<text x="246.00" y="257.00" font-size="6.8" text-anchor="middle" fill="#333" font-style="italic">Ø219x6</text>
<text x="265.00" y="251.40" font-size="6.8" text-anchor="middle" fill="#333" font-style="italic">13</text>
<g transform="translate(90.00,292.20) rotate(0)"><path d="M-6.3,-3.0 L0,0 L-6.3,3.0 Z M6.3,-3.0 L0,0 L6.3,3.0 Z" fill="white" stroke="#111" stroke-width="0.9"/><path d="M-7.5,-3.5 V3.5 M7.5,-3.5 V3.5" stroke="#111" stroke-width="0.9" stroke-width="1.3"/></g>
<g transform="translate(107.90,292.20) rotate(0)"><path d="M0,0 V-7.5" stroke="#111" stroke-width="0.9"/><path d="M-1.8,-6.3 L1.8,-6.3 L1.8,-3 L-1.8,-3 Z" fill="#222" stroke="#111" stroke-width="0.5"/><circle cx="0" cy="-10.4" r="2.9" fill="white" stroke="#111" stroke-width="1"/><path d="M-2.03,-12.43 L2.03,-8.370000000000001" stroke="#111" stroke-width="0.9"/></g>
<g transform="translate(116.80,292.20) rotate(0)"><path d="M-3.5,-3 L-1.75,3 L0,-3 L1.75,3 L3.5,-3" fill="none" stroke="#111" stroke-width="1.1"/></g>
<g transform="translate(125.70,292.20) rotate(0)"><path d="M0,0 V6.5" stroke="#111" stroke-width="0.9"/><path d="M-1.6,1.8 L1.6,1.8 L-1.6,5.8 L1.6,5.8 Z" fill="#222" stroke="#111" stroke-width="0.5"/></g>
<g transform="translate(133.50,292.20) rotate(180)"><path d="M-3.25,0 L3.25,-3.0 L3.25,3.0 Z" fill="white" stroke="#111" stroke-width="0.9"/><path d="M3.85,-3.3 V3.3" stroke="#111" stroke-width="0.9"/></g>
<g transform="translate(145.00,292.20) rotate(0)"><path d="M-6.3,-3.5 V3.5 M6.3,-3.5 V3.5" stroke="#111" stroke-width="1.1"/><circle r="4.6" fill="white" stroke="#111" stroke-width="1.1"/><path d="M-3,-4 L4.6,0 L-3,4 Z" fill="#111"/></g>
<g transform="translate(156.00,292.20) rotate(0)"><path d="M-3.25,0 L3.25,-3.0 L3.25,3.0 Z" fill="white" stroke="#111" stroke-width="0.9"/><path d="M3.85,-3.3 V3.3" stroke="#111" stroke-width="0.9"/></g>
<g transform="translate(164.40,292.20) rotate(0)"><path d="M0,0 V6.5" stroke="#111" stroke-width="0.9"/><path d="M-1.6,1.8 L1.6,1.8 L-1.6,5.8 L1.6,5.8 Z" fill="#222" stroke="#111" stroke-width="0.5"/></g>
<g transform="translate(173.30,292.20) rotate(0)"><path d="M-3.5,-3 L-1.75,3 L0,-3 L1.75,3 L3.5,-3" fill="none" stroke="#111" stroke-width="1.1"/></g>
<g transform="translate(182.80,292.20) rotate(0)"><path d="M0,0 V-7.5" stroke="#111" stroke-width="0.9"/><path d="M-1.8,-6.3 L1.8,-6.3 L1.8,-3 L-1.8,-3 Z" fill="#222" stroke="#111" stroke-width="0.5"/><circle cx="0" cy="-10.4" r="2.9" fill="white" stroke="#111" stroke-width="1"/><path d="M-2.03,-12.43 L2.03,-8.370000000000001" stroke="#111" stroke-width="0.9"/></g>
<g transform="translate(200.50,292.20) rotate(0)"><path d="M-8,-3 V3 M8,-3 V3" stroke="#111" stroke-width="1.2"/><path d="M-7,-3 L0,0 L-7,3 Z" fill="white" stroke="#111" stroke-width="0.9"/><path d="M7,-3.2 L0,0 L7,3.2 Z" fill="#111" stroke="#111" stroke-width="0.9"/></g>
<g transform="translate(224.50,292.20) rotate(0)"><path d="M-6.3,-3.0 L0,0 L-6.3,3.0 Z M6.3,-3.0 L0,0 L6.3,3.0 Z" fill="white" stroke="#111" stroke-width="0.9"/><path d="M-7.5,-3.5 V3.5 M7.5,-3.5 V3.5" stroke="#111" stroke-width="0.9" stroke-width="1.3"/></g>
<g transform="translate(263.80,292.20) rotate(0)"><path d="M-2.9,0 L2.9,-3.0 L2.9,3.0 Z" fill="white" stroke="#111" stroke-width="0.9"/><path d="M3.5,-3.3 V3.3" stroke="#111" stroke-width="0.9"/></g>
<text x="90.00" y="286.20" font-size="6.8" text-anchor="middle" fill="#333" font-style="italic">8</text>
<text x="107.90" y="274.70" font-size="6.8" text-anchor="middle" fill="#333" font-style="italic">6</text>
<text x="117.50" y="287.20" font-size="6.8" text-anchor="middle" fill="#333" font-style="italic">3</text>
<text x="125.70" y="304.20" font-size="6.8" text-anchor="middle" fill="#333" font-style="italic">5</text>
<text x="131.00" y="286.70" font-size="6.8" text-anchor="middle" fill="#333" font-style="italic">16</text>
<text x="145.50" y="284.70" font-size="6.8" text-anchor="middle" fill="#333" font-style="italic">24</text>
<text x="158.60" y="286.70" font-size="6.8" text-anchor="middle" fill="#333" font-style="italic">16</text>
<text x="164.40" y="304.70" font-size="6.8" text-anchor="middle" fill="#333" font-style="italic">5</text>
<text x="173.30" y="287.20" font-size="6.8" text-anchor="middle" fill="#333" font-style="italic">3</text>
<text x="182.80" y="274.70" font-size="6.8" text-anchor="middle" fill="#333" font-style="italic">6</text>
<text x="200.00" y="286.20" font-size="6.8" text-anchor="middle" fill="#333" font-style="italic">15</text>
<text x="224.50" y="286.20" font-size="6.8" text-anchor="middle" fill="#333" font-style="italic">8</text>
<text x="246.00" y="289.80" font-size="6.8" text-anchor="middle" fill="#333" font-style="italic">Ø219x6</text>
<text x="265.00" y="304.70" font-size="6.8" text-anchor="middle" fill="#333" font-style="italic">13</text>
<line x1="70.20" y1="270.60" x2="76.20" y2="270.60" stroke="#111" stroke-width="1"/>
<line x1="70.20" y1="280.20" x2="76.20" y2="280.20" stroke="#111" stroke-width="1"/>
<line x1="68.60" y1="271.50" x2="68.60" y2="279.30" stroke="#111" stroke-width="1"/>
<line x1="273.00" y1="270.60" x2="279.00" y2="270.60" stroke="#111" stroke-width="1"/>
<line x1="273.00" y1="280.20" x2="279.00" y2="280.20" stroke="#111" stroke-width="1"/>
<line x1="280.60" y1="271.50" x2="280.60" y2="279.30" stroke="#111" stroke-width="1"/>
<text x="65.00" y="269.50" font-size="6.8" text-anchor="middle" fill="#333" font-style="italic">14</text>
<text x="267.50" y="278.50" font-size="6.8" text-anchor="middle" fill="#333" font-style="italic">14</text>
<text x="68.00" y="301.00" font-size="6.8" text-anchor="middle" fill="#333" font-style="italic">Ø219x6</text>
<text x="270.00" y="225.50" font-size="6.8" text-anchor="middle" fill="#333" font-style="italic">Ø273x6</text>
<path d="M320.3,240.6 L331,246.2 H365.4" fill="none" stroke="#222" stroke-width="0.8"/>
<text x="348.20" y="244.50" font-size="5.8" text-anchor="middle" fill="#333" font-style="italic" textLength="34" lengthAdjust="spacingAndGlyphs">Подвод воды</text>
<g transform="translate(320.30,256.30) rotate(90)"><path d="M-8,-3 L0,0 L-8,3 Z" fill="white" stroke="#111" stroke-width="0.9"/><path d="M8,-3.2 L0,0 L8,3.2 Z" fill="#111" stroke="#111" stroke-width="0.9"/></g>
<text x="331.00" y="254.00" font-size="6.8" text-anchor="middle" fill="#333" font-style="italic">26</text>
<g transform="translate(332.50,279.00) rotate(0)"><path d="M0,0 V-7.5" stroke="#111" stroke-width="0.9"/><path d="M-1.8,-6.3 L1.8,-6.3 L1.8,-3 L-1.8,-3 Z" fill="#222" stroke="#111" stroke-width="0.5"/><circle cx="0" cy="-10.1" r="2.6" fill="white" stroke="#111" stroke-width="1"/><path d="M-1.8199999999999998,-11.92 L1.8199999999999998,-8.28" stroke="#111" stroke-width="0.9"/></g>
<text x="333.00" y="262.00" font-size="6.8" text-anchor="middle" fill="#333" font-style="italic">6</text>
<g transform="translate(341.30,279.00) rotate(0)"><path d="M-5.3,-3 V3 M5.3,-3 V3" stroke="#111" stroke-width="1.3"/><path d="M-3.8,-2.2 H3.8 V2.2 H-3.8 Z" fill="white" stroke="#111" stroke-width="0.9"/><path d="M-1,2.2 L0,4 L1,2.2" fill="none" stroke="#111" stroke-width="0.9"/></g>
<text x="343.50" y="272.00" font-size="6.8" text-anchor="middle" fill="#333" font-style="italic">25</text>
<g transform="translate(351.80,279.00) rotate(0)"><path d="M0,0 V-7.5" stroke="#111" stroke-width="0.9"/><path d="M-1.8,-6.3 L1.8,-6.3 L1.8,-3 L-1.8,-3 Z" fill="#222" stroke="#111" stroke-width="0.5"/><circle cx="0" cy="-10.1" r="2.6" fill="white" stroke="#111" stroke-width="1"/><path d="M-1.8199999999999998,-11.92 L1.8199999999999998,-8.28" stroke="#111" stroke-width="0.9"/></g>
<text x="352.00" y="262.00" font-size="6.8" text-anchor="middle" fill="#333" font-style="italic">6</text>
<g transform="translate(369.00,279.00) rotate(0)"><path d="M-5.6499999999999995,-3.0 L0,0 L-5.6499999999999995,3.0 Z M5.6499999999999995,-3.0 L0,0 L5.6499999999999995,3.0 Z" fill="white" stroke="#111" stroke-width="0.9"/><path d="M-6.85,-3.5 V3.5 M6.85,-3.5 V3.5" stroke="#111" stroke-width="0.9" stroke-width="1.3"/></g>
<path d="M369,279 V272" stroke="#111" stroke-width="0.9"/><circle cx="369.3" cy="269.4" r="2.4" fill="white" stroke="#111" stroke-width="0.9"/>
<text x="369.00" y="262.50" font-size="6.8" text-anchor="middle" fill="#333" font-style="italic">27</text>
<text x="374.50" y="296.00" font-size="6.8" text-anchor="middle" fill="#333" font-style="italic" transform="rotate(-90 374.50 296.00)">Ø25</text>
<text x="320.30" y="309.00" font-size="6.8" text-anchor="middle" fill="#333" font-style="italic">Ø25</text>
<g transform="translate(400.20,311.40) rotate(0)"><path d="M-5.6,-3.0 L0,0 L-5.6,3.0 Z M5.6,-3.0 L0,0 L5.6,3.0 Z" fill="white" stroke="#111" stroke-width="0.9"/><path d="M-6.8,-3.5 V3.5 M6.8,-3.5 V3.5" stroke="#111" stroke-width="0.9" stroke-width="1.3"/></g>
<text x="400.50" y="322.50" font-size="6.8" text-anchor="middle" fill="#333" font-style="italic">28</text>
<path d="M407.3,281.5 Q407.3,278 413.6,278 Q420,278 420,281.5 V303 Q420,307 413.6,307 Q407.3,307 407.3,303 Z" fill="white" stroke="#222" stroke-width="1"/>
<line x1="407.30" y1="293.30" x2="420.00" y2="293.30" stroke="#555" stroke-width="0.7"/>
<rect x="418" y="286.7" width="2.8" height="10" fill="white" stroke="#222" stroke-width="0.9"/>
<path d="M412.5,278 L408,271 M406.5,272 L410,270" stroke="#222" stroke-width="1.2"/>
<text x="399.40" y="294.00" font-size="6.8" text-anchor="middle" fill="#333" font-style="italic">30</text>
<text x="65.70" y="340.00" font-size="6.8" text-anchor="middle" fill="#333" font-style="italic">Ø273x6</text>
<text x="95.50" y="335.80" font-size="5.8" text-anchor="middle" fill="#333" font-style="italic">Х1</text>
<path d="M100.5,339.3 H90.5 M93.0,337.8 L90.5,339.3 L93.0,340.8" fill="none" stroke="#222" stroke-width="0.7"/>
<text x="391.60" y="340.00" font-size="6.8" text-anchor="middle" fill="#333" font-style="italic">Ø273x6</text>
<text x="416.30" y="335.80" font-size="5.8" text-anchor="middle" fill="#333" font-style="italic">3т</text>
<path d="M421.3,339.3 H411.3 M413.8,337.8 L411.3,339.3 L413.8,340.8" fill="none" stroke="#222" stroke-width="0.7"/>
<text x="95.00" y="383.30" font-size="5.8" text-anchor="middle" fill="#333" font-style="italic">Х2</text>
<path d="M90,386.8 H100 M97.5,385.3 L100,386.8 L97.5,388.3" fill="none" stroke="#222" stroke-width="0.7"/>
<text x="104.70" y="403.00" font-size="6.8" text-anchor="middle" fill="#333" font-style="italic">Ø273x6</text>
<text x="364.00" y="383.30" font-size="5.8" text-anchor="middle" fill="#333" font-style="italic">3т</text>
<path d="M359,386.8 H369 M366.5,385.3 L369,386.8 L366.5,388.3" fill="none" stroke="#222" stroke-width="0.7"/>
<text x="391.60" y="388.30" font-size="6.8" text-anchor="middle" fill="#333" font-style="italic">Ø273x6</text>
<line x1="173.75" y1="338.60" x2="173.75" y2="345.60" stroke="#111" stroke-width="1"/>
<line x1="181.90" y1="338.60" x2="181.90" y2="345.60" stroke="#111" stroke-width="1"/>
<g transform="translate(197.80,342.10) rotate(0)"><path d="M-6.6,-3.0 L0,0 L-6.6,3.0 Z M6.6,-3.0 L0,0 L6.6,3.0 Z" fill="white" stroke="#111" stroke-width="0.9"/><path d="M-7.8,-3.5 V3.5 M7.8,-3.5 V3.5" stroke="#111" stroke-width="0.9" stroke-width="1.3"/></g>
<line x1="205.30" y1="339.10" x2="205.30" y2="345.10" stroke="#111" stroke-width="2"/>
<g transform="translate(213.00,342.10) rotate(180)"><path d="M-3.1,0 L3.1,-3.0 L3.1,3.0 Z" fill="white" stroke="#111" stroke-width="0.9"/></g>
<g transform="translate(246.00,342.10) rotate(0)"><path d="M-2.9,0 L2.9,-3.0 L2.9,3.0 Z" fill="white" stroke="#111" stroke-width="0.9"/></g>
<line x1="173.75" y1="386.90" x2="173.75" y2="393.90" stroke="#111" stroke-width="1"/>
<line x1="181.90" y1="386.90" x2="181.90" y2="393.90" stroke="#111" stroke-width="1"/>
<g transform="translate(197.80,390.40) rotate(0)"><path d="M-6.6,-3.0 L0,0 L-6.6,3.0 Z M6.6,-3.0 L0,0 L6.6,3.0 Z" fill="white" stroke="#111" stroke-width="0.9"/><path d="M-7.8,-3.5 V3.5 M7.8,-3.5 V3.5" stroke="#111" stroke-width="0.9" stroke-width="1.3"/></g>
<line x1="205.30" y1="387.40" x2="205.30" y2="393.40" stroke="#111" stroke-width="2"/>
<g transform="translate(213.00,390.40) rotate(180)"><path d="M-3.1,0 L3.1,-3.0 L3.1,3.0 Z" fill="white" stroke="#111" stroke-width="0.9"/></g>
<g transform="translate(246.00,390.40) rotate(0)"><path d="M-2.9,0 L2.9,-3.0 L2.9,3.0 Z" fill="white" stroke="#111" stroke-width="0.9"/></g>
<line x1="174.00" y1="346.00" x2="182.00" y2="346.00" stroke="#111" stroke-width="1"/>
<line x1="174.00" y1="386.20" x2="182.00" y2="386.20" stroke="#111" stroke-width="1"/>
<g transform="translate(177.80,367.50) rotate(90)"><path d="M-6.3,-3.0 L0,0 L-6.3,3.0 Z M6.3,-3.0 L0,0 L6.3,3.0 Z" fill="white" stroke="#111" stroke-width="0.9"/><path d="M-7.5,-3.5 V3.5 M7.5,-3.5 V3.5" stroke="#111" stroke-width="0.9" stroke-width="1.3"/></g>
<text x="168.50" y="371.50" font-size="6.8" text-anchor="middle" fill="#333" font-style="italic">20</text>
<text x="178.00" y="336.00" font-size="6.8" text-anchor="middle" fill="#333" font-style="italic">14</text>
<text x="198.00" y="336.00" font-size="6.8" text-anchor="middle" fill="#333" font-style="italic">20</text>
<text x="214.00" y="336.00" font-size="6.8" text-anchor="middle" fill="#333" font-style="italic">22</text>
<text x="229.50" y="333.00" font-size="6.8" text-anchor="middle" fill="#333" font-style="italic">23</text>
<text x="248.00" y="336.00" font-size="6.8" text-anchor="middle" fill="#333" font-style="italic">22</text>
<text x="178.00" y="401.50" font-size="6.8" text-anchor="middle" fill="#333" font-style="italic">14</text>
<text x="198.00" y="384.50" font-size="6.8" text-anchor="middle" fill="#333" font-style="italic">20</text>
<text x="213.50" y="384.50" font-size="6.8" text-anchor="middle" fill="#333" font-style="italic">22</text>
<text x="248.00" y="384.50" font-size="6.8" text-anchor="middle" fill="#333" font-style="italic">22</text>
<rect x="221.3" y="336.3" width="16.2" height="59.3" rx="2.8" fill="white" stroke="#222" stroke-width="1.1"/>
<line x1="221.30" y1="342.10" x2="237.50" y2="342.10" stroke="#111" stroke-width="0.9"/>
<line x1="221.30" y1="390.40" x2="237.50" y2="390.40" stroke="#111" stroke-width="0.9"/>
<circle cx="227.5" cy="342.1" r="2" fill="white" stroke="#333" stroke-width="0.8"/>
<circle cx="227.5" cy="390.4" r="2" fill="white" stroke="#333" stroke-width="0.8"/>
<circle cx="232.5" cy="342.1" r="2" fill="white" stroke="#333" stroke-width="0.8"/>
<circle cx="232.5" cy="390.4" r="2" fill="white" stroke="#333" stroke-width="0.8"/>
<polyline points="226.70,345.50 231.30,349.00 226.70,352.50 231.30,356.00 226.70,359.50 231.30,363.00 226.70,366.50 231.30,370.00 226.70,373.50 231.30,377.00 226.70,380.50 231.30,384.00 226.70,387.50" stroke="#222" stroke-width="0.9" fill="none"/>
<polyline points="231.30,345.50 235.90,349.00 231.30,352.50 235.90,356.00 231.30,359.50 235.90,363.00 231.30,366.50 235.90,370.00 231.30,373.50 235.90,377.00 231.30,380.50 235.90,384.00 231.30,387.50" stroke="#222" stroke-width="0.9" fill="none"/>
<g transform="translate(271.80,342.10) rotate(0)"><path d="M-5.8,-3.0 L0,0 L-5.8,3.0 Z M5.8,-3.0 L0,0 L5.8,3.0 Z" fill="white" stroke="#111" stroke-width="0.9"/><path d="M-7.0,-3.5 V3.5 M7.0,-3.5 V3.5" stroke="#111" stroke-width="0.9" stroke-width="1.3"/></g>
<g transform="translate(288.20,342.10) rotate(0)"><path d="M0,-2 V-12" stroke="#111" stroke-width="1.1"/><circle cx="0" cy="-3.8" r="2.4" fill="#111"/></g>
<g transform="translate(297.80,342.10) rotate(0)"><path d="M0,0 V-7.5" stroke="#111" stroke-width="0.9"/><path d="M-1.8,-6.3 L1.8,-6.3 L1.8,-3 L-1.8,-3 Z" fill="#222" stroke="#111" stroke-width="0.5"/><circle cx="0" cy="-10.0" r="2.5" fill="white" stroke="#111" stroke-width="1"/><path d="M-1.75,-11.75 L1.75,-8.25" stroke="#111" stroke-width="0.9"/></g>
<g transform="translate(305.40,342.10) rotate(0)"><path d="M-5.65,-3 V3 M5.65,-3 V3" stroke="#111" stroke-width="1.3"/><path d="M-4.15,-2.2 H4.15 V2.2 H-4.15 Z" fill="white" stroke="#111" stroke-width="0.9"/><path d="M-1,2.2 L0,4 L1,2.2" fill="none" stroke="#111" stroke-width="0.9"/></g>
<g transform="translate(317.50,342.10) rotate(0)"><path d="M0,0 V-7.5" stroke="#111" stroke-width="0.9"/><path d="M-1.8,-6.3 L1.8,-6.3 L1.8,-3 L-1.8,-3 Z" fill="#222" stroke="#111" stroke-width="0.5"/><circle cx="0" cy="-10.0" r="2.5" fill="white" stroke="#111" stroke-width="1"/><path d="M-1.75,-11.75 L1.75,-8.25" stroke="#111" stroke-width="0.9"/></g>
<g transform="translate(336.00,342.10) rotate(0)"><path d="M-6.5,-3.0 L0,0 L-6.5,3.0 Z M6.5,-3.0 L0,0 L6.5,3.0 Z" fill="white" stroke="#111" stroke-width="0.9"/><path d="M-7.7,-3.5 V3.5 M7.7,-3.5 V3.5" stroke="#111" stroke-width="0.9" stroke-width="1.3"/></g>
<text x="272.00" y="336.00" font-size="6.8" text-anchor="middle" fill="#333" font-style="italic">20</text>
<text x="288.00" y="326.00" font-size="6.8" text-anchor="middle" fill="#333" font-style="italic">7</text>
<text x="297.60" y="326.00" font-size="6.8" text-anchor="middle" fill="#333" font-style="italic">6</text>
<text x="307.00" y="334.50" font-size="6.8" text-anchor="middle" fill="#333" font-style="italic">21</text>
<text x="317.50" y="326.00" font-size="6.8" text-anchor="middle" fill="#333" font-style="italic">6</text>
<text x="336.00" y="336.00" font-size="6.8" text-anchor="middle" fill="#333" font-style="italic">20</text>
<g transform="translate(114.50,390.40) rotate(0)"><path d="M-6.3,-3.0 L0,0 L-6.3,3.0 Z M6.3,-3.0 L0,0 L6.3,3.0 Z" fill="white" stroke="#111" stroke-width="0.9"/><path d="M-7.5,-3.5 V3.5 M7.5,-3.5 V3.5" stroke="#111" stroke-width="0.9" stroke-width="1.3"/></g>
<g transform="translate(133.20,390.40) rotate(0)"><path d="M0,0 V-7.5" stroke="#111" stroke-width="0.9"/><path d="M-1.8,-6.3 L1.8,-6.3 L1.8,-3 L-1.8,-3 Z" fill="#222" stroke="#111" stroke-width="0.5"/><circle cx="0" cy="-10.0" r="2.5" fill="white" stroke="#111" stroke-width="1"/><path d="M-1.75,-11.75 L1.75,-8.25" stroke="#111" stroke-width="0.9"/></g>
<g transform="translate(144.40,390.40) rotate(0)"><path d="M-5.6,-3 V3 M5.6,-3 V3" stroke="#111" stroke-width="1.3"/><path d="M-4.1,-2.2 H4.1 V2.2 H-4.1 Z" fill="white" stroke="#111" stroke-width="0.9"/><path d="M-1,2.2 L0,4 L1,2.2" fill="none" stroke="#111" stroke-width="0.9"/></g>
<g transform="translate(153.00,390.40) rotate(0)"><path d="M0,0 V-7.5" stroke="#111" stroke-width="0.9"/><path d="M-1.8,-6.3 L1.8,-6.3 L1.8,-3 L-1.8,-3 Z" fill="#222" stroke="#111" stroke-width="0.5"/><circle cx="0" cy="-10.0" r="2.5" fill="white" stroke="#111" stroke-width="1"/><path d="M-1.75,-11.75 L1.75,-8.25" stroke="#111" stroke-width="0.9"/></g>
<text x="114.80" y="385.50" font-size="6.8" text-anchor="middle" fill="#333" font-style="italic">20</text>
<text x="133.00" y="374.00" font-size="6.8" text-anchor="middle" fill="#333" font-style="italic">6</text>
<text x="144.50" y="384.00" font-size="6.8" text-anchor="middle" fill="#333" font-style="italic">21</text>
<text x="153.00" y="374.00" font-size="6.8" text-anchor="middle" fill="#333" font-style="italic">6</text>
<g transform="translate(288.20,390.40) rotate(0)"><path d="M0,-2 V-12" stroke="#111" stroke-width="1.1"/><circle cx="0" cy="-3.8" r="2.4" fill="#111"/></g>
<g transform="translate(304.00,390.40) rotate(0)"><path d="M-6.3,-3.0 L0,0 L-6.3,3.0 Z M6.3,-3.0 L0,0 L6.3,3.0 Z" fill="white" stroke="#111" stroke-width="0.9"/><path d="M-7.5,-3.5 V3.5 M7.5,-3.5 V3.5" stroke="#111" stroke-width="0.9" stroke-width="1.3"/></g>
<text x="288.00" y="375.00" font-size="6.8" text-anchor="middle" fill="#333" font-style="italic">7</text>
<text x="304.00" y="385.50" font-size="6.8" text-anchor="middle" fill="#333" font-style="italic">20</text>
<text x="437.90" y="340.00" font-size="6.8" text-anchor="middle" fill="#333" font-style="italic" transform="rotate(-90 437.90 340.00)" dominant-baseline="auto">Ø273x6</text>
<text x="437.90" y="380.50" font-size="6.8" text-anchor="middle" fill="#333" font-style="italic" transform="rotate(-90 437.90 380.50)">Ø219x6</text>
<g transform="translate(442.90,362.00) rotate(-90)"><path d="M-2.9,0 L2.9,-3.0 L2.9,3.0 Z" fill="white" stroke="#111" stroke-width="0.9"/><path d="M3.5,-3.3 V3.3" stroke="#111" stroke-width="0.9"/></g>
<text x="434.90" y="363.00" font-size="6.8" text-anchor="middle" fill="#333" font-style="italic">13</text>
<g transform="translate(442.90,401.70) rotate(90)"><path d="M-5.8999999999999995,-3.0 L0,0 L-5.8999999999999995,3.0 Z M5.8999999999999995,-3.0 L0,0 L5.8999999999999995,3.0 Z" fill="white" stroke="#111" stroke-width="0.9"/><path d="M-7.1,-3.5 V3.5 M7.1,-3.5 V3.5" stroke="#111" stroke-width="0.9" stroke-width="1.3"/></g>
<text x="434.40" y="404.50" font-size="6.8" text-anchor="middle" fill="#333" font-style="italic">8</text>
<g transform="translate(442.90,426.70) rotate(90)"><path d="M-7.7,-3.2 L0,0 L-7.7,3.2 Z" fill="#111" stroke="#111" stroke-width="0.9"/><path d="M6.6,-3 L0,0 L6.6,3 Z" fill="white" stroke="#111" stroke-width="0.9"/><path d="M7.2,-3 V3" stroke="#111" stroke-width="1.1"/></g>
<text x="434.40" y="429.50" font-size="6.8" text-anchor="middle" fill="#333" font-style="italic">15</text>
<g transform="translate(442.90,443.70) rotate(-90)"><path d="M0,0 V-7.5" stroke="#111" stroke-width="0.9"/><path d="M-1.8,-6.3 L1.8,-6.3 L1.8,-3 L-1.8,-3 Z" fill="#222" stroke="#111" stroke-width="0.5"/><circle cx="0" cy="-10.1" r="2.6" fill="white" stroke="#111" stroke-width="1"/><path d="M-1.8199999999999998,-11.92 L1.8199999999999998,-8.28" stroke="#111" stroke-width="0.9"/></g>
<text x="424.40" y="446.00" font-size="6.8" text-anchor="middle" fill="#333" font-style="italic">6</text>
<g transform="translate(442.90,453.00) rotate(90)"><path d="M-3.5,-3 L-1.75,3 L0,-3 L1.75,3 L3.5,-3" fill="none" stroke="#111" stroke-width="1.1"/></g>
<text x="433.90" y="456.00" font-size="6.8" text-anchor="middle" fill="#333" font-style="italic">3</text>
<g transform="translate(442.90,461.30) rotate(-90)"><path d="M0,0 V6.5" stroke="#111" stroke-width="0.9"/><path d="M-1.6,1.8 L1.6,1.8 L-1.6,5.8 L1.6,5.8 Z" fill="#222" stroke="#111" stroke-width="0.5"/></g>
<text x="452.70" y="463.50" font-size="6.8" text-anchor="middle" fill="#333" font-style="italic">5</text>
<g transform="translate(442.90,469.30) rotate(-90)"><path d="M-2.8,0 L2.8,-3.0 L2.8,3.0 Z" fill="white" stroke="#111" stroke-width="0.9"/><path d="M3.4,-3.3 V3.3" stroke="#111" stroke-width="0.9"/></g>
<text x="433.90" y="472.00" font-size="6.8" text-anchor="middle" fill="#333" font-style="italic">16</text>
<g transform="translate(442.90,480.70) rotate(0)"><circle r="4.5" fill="white" stroke="#111" stroke-width="1.1"/><path d="M-4,3 L0,-4.5 L4,3 Z" fill="#111"/><path d="M-3.5,-6.3 H3.5 M-3.5,6.3 H3.5" stroke="#111" stroke-width="1"/></g>
<text x="431.90" y="483.50" font-size="6.8" text-anchor="middle" fill="#333" font-style="italic">17</text>
<g transform="translate(442.90,492.80) rotate(90)"><path d="M-2.8,0 L2.8,-3.0 L2.8,3.0 Z" fill="white" stroke="#111" stroke-width="0.9"/><path d="M3.4,-3.3 V3.3" stroke="#111" stroke-width="0.9"/></g>
<text x="433.90" y="495.50" font-size="6.8" text-anchor="middle" fill="#333" font-style="italic">16</text>
<g transform="translate(442.90,500.40) rotate(-90)"><path d="M0,0 V6.5" stroke="#111" stroke-width="0.9"/><path d="M-1.6,1.8 L1.6,1.8 L-1.6,5.8 L1.6,5.8 Z" fill="#222" stroke="#111" stroke-width="0.5"/></g>
<text x="452.70" y="502.70" font-size="6.8" text-anchor="middle" fill="#333" font-style="italic">5</text>
<g transform="translate(442.90,510.30) rotate(90)"><path d="M-3.5,-3 L-1.75,3 L0,-3 L1.75,3 L3.5,-3" fill="none" stroke="#111" stroke-width="1.1"/></g>
<text x="433.90" y="512.50" font-size="6.8" text-anchor="middle" fill="#333" font-style="italic">3</text>
<g transform="translate(442.90,518.50) rotate(-90)"><path d="M0,0 V-7.5" stroke="#111" stroke-width="0.9"/><path d="M-1.8,-6.3 L1.8,-6.3 L1.8,-3 L-1.8,-3 Z" fill="#222" stroke="#111" stroke-width="0.5"/><circle cx="0" cy="-10.1" r="2.6" fill="white" stroke="#111" stroke-width="1"/><path d="M-1.8199999999999998,-11.92 L1.8199999999999998,-8.28" stroke="#111" stroke-width="0.9"/></g>
<text x="424.40" y="521.00" font-size="6.8" text-anchor="middle" fill="#333" font-style="italic">6</text>
<g transform="translate(442.90,535.80) rotate(90)"><path d="M-5.85,-3.0 L0,0 L-5.85,3.0 Z M5.85,-3.0 L0,0 L5.85,3.0 Z" fill="white" stroke="#111" stroke-width="0.9"/><path d="M-7.05,-3.5 V3.5 M7.05,-3.5 V3.5" stroke="#111" stroke-width="0.9" stroke-width="1.3"/></g>
<text x="434.90" y="539.00" font-size="6.8" text-anchor="middle" fill="#333" font-style="italic">8</text>
<text x="470.70" y="340.00" font-size="6.8" text-anchor="middle" fill="#333" font-style="italic" transform="rotate(-90 470.70 340.00)" dominant-baseline="auto">Ø273x6</text>
<text x="470.70" y="380.50" font-size="6.8" text-anchor="middle" fill="#333" font-style="italic" transform="rotate(-90 470.70 380.50)">Ø219x6</text>
<g transform="translate(475.70,362.00) rotate(-90)"><path d="M-2.9,0 L2.9,-3.0 L2.9,3.0 Z" fill="white" stroke="#111" stroke-width="0.9"/><path d="M3.5,-3.3 V3.3" stroke="#111" stroke-width="0.9"/></g>
<text x="486.20" y="363.00" font-size="6.8" text-anchor="middle" fill="#333" font-style="italic">13</text>
<g transform="translate(475.70,401.70) rotate(90)"><path d="M-5.8999999999999995,-3.0 L0,0 L-5.8999999999999995,3.0 Z M5.8999999999999995,-3.0 L0,0 L5.8999999999999995,3.0 Z" fill="white" stroke="#111" stroke-width="0.9"/><path d="M-7.1,-3.5 V3.5 M7.1,-3.5 V3.5" stroke="#111" stroke-width="0.9" stroke-width="1.3"/></g>
<text x="467.20" y="404.50" font-size="6.8" text-anchor="middle" fill="#333" font-style="italic">8</text>
<g transform="translate(475.70,426.70) rotate(90)"><path d="M-7.7,-3.2 L0,0 L-7.7,3.2 Z" fill="#111" stroke="#111" stroke-width="0.9"/><path d="M6.6,-3 L0,0 L6.6,3 Z" fill="white" stroke="#111" stroke-width="0.9"/><path d="M7.2,-3 V3" stroke="#111" stroke-width="1.1"/></g>
<text x="467.20" y="429.50" font-size="6.8" text-anchor="middle" fill="#333" font-style="italic">15</text>
<g transform="translate(475.70,443.70) rotate(-90)"><path d="M0,0 V-7.5" stroke="#111" stroke-width="0.9"/><path d="M-1.8,-6.3 L1.8,-6.3 L1.8,-3 L-1.8,-3 Z" fill="#222" stroke="#111" stroke-width="0.5"/><circle cx="0" cy="-10.1" r="2.6" fill="white" stroke="#111" stroke-width="1"/><path d="M-1.8199999999999998,-11.92 L1.8199999999999998,-8.28" stroke="#111" stroke-width="0.9"/></g>
<text x="457.20" y="446.00" font-size="6.8" text-anchor="middle" fill="#333" font-style="italic">6</text>
<g transform="translate(475.70,453.00) rotate(90)"><path d="M-3.5,-3 L-1.75,3 L0,-3 L1.75,3 L3.5,-3" fill="none" stroke="#111" stroke-width="1.1"/></g>
<text x="466.70" y="456.00" font-size="6.8" text-anchor="middle" fill="#333" font-style="italic">3</text>
<g transform="translate(475.70,461.30) rotate(-90)"><path d="M0,0 V6.5" stroke="#111" stroke-width="0.9"/><path d="M-1.6,1.8 L1.6,1.8 L-1.6,5.8 L1.6,5.8 Z" fill="#222" stroke="#111" stroke-width="0.5"/></g>
<text x="485.50" y="463.50" font-size="6.8" text-anchor="middle" fill="#333" font-style="italic">5</text>
<g transform="translate(475.70,469.30) rotate(-90)"><path d="M-2.8,0 L2.8,-3.0 L2.8,3.0 Z" fill="white" stroke="#111" stroke-width="0.9"/><path d="M3.4,-3.3 V3.3" stroke="#111" stroke-width="0.9"/></g>
<text x="466.70" y="472.00" font-size="6.8" text-anchor="middle" fill="#333" font-style="italic">16</text>
<g transform="translate(475.70,480.70) rotate(0)"><circle r="4.5" fill="white" stroke="#111" stroke-width="1.1"/><path d="M-4,3 L0,-4.5 L4,3 Z" fill="#111"/><path d="M-3.5,-6.3 H3.5 M-3.5,6.3 H3.5" stroke="#111" stroke-width="1"/></g>
<text x="464.70" y="483.50" font-size="6.8" text-anchor="middle" fill="#333" font-style="italic">17</text>
<g transform="translate(475.70,492.80) rotate(90)"><path d="M-2.8,0 L2.8,-3.0 L2.8,3.0 Z" fill="white" stroke="#111" stroke-width="0.9"/><path d="M3.4,-3.3 V3.3" stroke="#111" stroke-width="0.9"/></g>
<text x="466.70" y="495.50" font-size="6.8" text-anchor="middle" fill="#333" font-style="italic">16</text>
<g transform="translate(475.70,500.40) rotate(-90)"><path d="M0,0 V6.5" stroke="#111" stroke-width="0.9"/><path d="M-1.6,1.8 L1.6,1.8 L-1.6,5.8 L1.6,5.8 Z" fill="#222" stroke="#111" stroke-width="0.5"/></g>
<text x="485.50" y="502.70" font-size="6.8" text-anchor="middle" fill="#333" font-style="italic">5</text>
<g transform="translate(475.70,510.30) rotate(90)"><path d="M-3.5,-3 L-1.75,3 L0,-3 L1.75,3 L3.5,-3" fill="none" stroke="#111" stroke-width="1.1"/></g>
<text x="466.70" y="512.50" font-size="6.8" text-anchor="middle" fill="#333" font-style="italic">3</text>
<g transform="translate(475.70,518.50) rotate(-90)"><path d="M0,0 V-7.5" stroke="#111" stroke-width="0.9"/><path d="M-1.8,-6.3 L1.8,-6.3 L1.8,-3 L-1.8,-3 Z" fill="#222" stroke="#111" stroke-width="0.5"/><circle cx="0" cy="-10.1" r="2.6" fill="white" stroke="#111" stroke-width="1"/><path d="M-1.8199999999999998,-11.92 L1.8199999999999998,-8.28" stroke="#111" stroke-width="0.9"/></g>
<text x="457.20" y="521.00" font-size="6.8" text-anchor="middle" fill="#333" font-style="italic">6</text>
<g transform="translate(475.70,535.80) rotate(90)"><path d="M-5.85,-3.0 L0,0 L-5.85,3.0 Z M5.85,-3.0 L0,0 L5.85,3.0 Z" fill="white" stroke="#111" stroke-width="0.9"/><path d="M-7.05,-3.5 V3.5 M7.05,-3.5 V3.5" stroke="#111" stroke-width="0.9" stroke-width="1.3"/></g>
<text x="467.70" y="539.00" font-size="6.8" text-anchor="middle" fill="#333" font-style="italic">8</text>
<line x1="455.50" y1="319.00" x2="455.50" y2="326.00" stroke="#111" stroke-width="1"/>
<line x1="463.50" y1="319.00" x2="463.50" y2="326.00" stroke="#111" stroke-width="1"/>
<line x1="456.00" y1="318.00" x2="463.00" y2="318.00" stroke="#111" stroke-width="1"/>
<text x="459.50" y="332.00" font-size="6.8" text-anchor="middle" fill="#333" font-style="italic">14</text>
<path d="M370.4,466.5 Q372,457.5 385.2,457.5 Q398.5,457.5 400,466.5 V519 Q398.5,527.9 385.2,527.9 Q372,527.9 370.4,519 Z" fill="white" stroke="#222" stroke-width="1"/>
<line x1="370.40" y1="466.50" x2="400.00" y2="466.50" stroke="#333" stroke-width="0.8"/>
<line x1="370.40" y1="519.00" x2="400.00" y2="519.00" stroke="#333" stroke-width="0.8"/>
<line x1="385.30" y1="452.00" x2="385.30" y2="531.00" stroke="#222" stroke-width="0.9"/>
<path d="M383.7,449.5 H387 M383.7,452 H387 M383.7,454.5 H387" stroke="#222" stroke-width="0.9"/>
<path d="M383.5,529.5 L385.3,532.5 L387,529.5 Z" fill="#222"/>
<text x="393.50" y="499.50" font-size="6.8" text-anchor="middle" fill="#333" font-style="italic">18</text>
<line x1="400.50" y1="471.30" x2="403.50" y2="471.30" stroke="#111" stroke-width="1"/>
<line x1="402.00" y1="469.00" x2="402.00" y2="473.50" stroke="#111" stroke-width="0.9"/>
<g transform="translate(409.00,448.80) rotate(-90)"><path d="M-2.8,0 L2.8,-3.0 L2.8,3.0 Z" fill="white" stroke="#111" stroke-width="0.9"/><path d="M3.4,-3.3 V3.3" stroke="#111" stroke-width="0.9"/></g>
<text x="398.50" y="451.00" font-size="6.8" text-anchor="middle" fill="#333" font-style="italic">19</text>
<text x="416.30" y="463.50" font-size="6.8" text-anchor="middle" fill="#333" font-style="italic" transform="rotate(-90 416.30 463.50)">Ø108x4</text>
<line x1="366.50" y1="512.50" x2="366.50" y2="517.00" stroke="#111" stroke-width="0.9"/>
<g transform="translate(357.50,532.50) rotate(90)"><path d="M-2.85,0 L2.85,-3.0 L2.85,3.0 Z" fill="white" stroke="#111" stroke-width="0.9"/><path d="M3.45,-3.3 V3.3" stroke="#111" stroke-width="0.9"/></g>
<text x="347.50" y="535.00" font-size="6.8" text-anchor="middle" fill="#333" font-style="italic">19</text>
<text x="354.30" y="511.00" font-size="6.8" text-anchor="middle" fill="#333" font-style="italic" transform="rotate(-90 354.30 511.00)">Ø108x4</text>
<line x1="377.50" y1="574.00" x2="384.50" y2="574.00" stroke="#111" stroke-width="1"/>
<line x1="377.50" y1="583.00" x2="384.50" y2="583.00" stroke="#111" stroke-width="1"/>
<line x1="377.20" y1="575.50" x2="377.20" y2="582.50" stroke="#111" stroke-width="1"/>
<text x="388.50" y="581.50" font-size="6.8" text-anchor="middle" fill="#333" font-style="italic">14</text>
<g transform="translate(411.90,562.20) rotate(180)"><path d="M-2.85,0 L2.85,-3.0 L2.85,3.0 Z" fill="white" stroke="#111" stroke-width="0.9"/><path d="M3.45,-3.3 V3.3" stroke="#111" stroke-width="0.9"/></g>
<text x="411.00" y="555.00" font-size="6.8" text-anchor="middle" fill="#333" font-style="italic">13</text>
<text x="393.70" y="560.50" font-size="6.8" text-anchor="middle" fill="#333" font-style="italic">Ø273x6</text>
<text x="428.80" y="560.50" font-size="6.8" text-anchor="middle" fill="#333" font-style="italic">Ø219x6</text>
<g transform="translate(423.20,595.00) rotate(180)"><path d="M-2.85,0 L2.85,-3.0 L2.85,3.0 Z" fill="white" stroke="#111" stroke-width="0.9"/><path d="M3.45,-3.3 V3.3" stroke="#111" stroke-width="0.9"/></g>
<text x="422.00" y="588.00" font-size="6.8" text-anchor="middle" fill="#333" font-style="italic">13</text>
<text x="405.80" y="593.30" font-size="6.8" text-anchor="middle" fill="#333" font-style="italic">Ø273x6</text>
<text x="441.00" y="593.30" font-size="6.8" text-anchor="middle" fill="#333" font-style="italic">Ø219x6</text>
<path d="M14.8,592.5 Q16.5,589.5 18.7,589.8 L23.6,593.5 Q28,592 31.3,588" fill="none" stroke="#333" stroke-width="0.9"/>
<path d="M38.9,592 Q40.8,589.5 43,589.8 L47.8,593.5 Q52,592 55.3,588" fill="none" stroke="#333" stroke-width="0.9"/>
<line x1="23.60" y1="593.50" x2="40.00" y2="610.00" stroke="#bbb" stroke-width="0.7"/>
<line x1="47.80" y1="593.50" x2="53.10" y2="610.00" stroke="#bbb" stroke-width="0.7"/>
<text x="33.00" y="557.00" font-size="6.8" text-anchor="middle" fill="#333" font-style="italic" transform="rotate(-90 33.00 557.00)">Ø273x6</text>
<text x="58.00" y="557.00" font-size="6.8" text-anchor="middle" fill="#333" font-style="italic" transform="rotate(-90 58.00 557.00)">Ø273x6</text>
<text x="110.70" y="510.00" font-size="6.8" text-anchor="middle" fill="#333" font-style="italic">33</text>
<path d="M129.5,557 L131,561.5 L132.5,557 Z M129.5,562 L131,557.5 L132.5,562 Z" fill="#222"/>
<g transform="translate(169.60,553.30) rotate(0)"><path d="M-5.45,-3.0 L0,0 L-5.45,3.0 Z M5.45,-3.0 L0,0 L5.45,3.0 Z" fill="white" stroke="#111" stroke-width="0.9"/><path d="M-6.65,-3.5 V3.5 M6.65,-3.5 V3.5" stroke="#111" stroke-width="0.9" stroke-width="1.3"/></g>
<text x="171.60" y="548.00" font-size="6.8" text-anchor="middle" fill="#333" font-style="italic">31</text>
<text x="152.20" y="549.50" font-size="6.8" text-anchor="middle" fill="#333" font-style="italic">Ду25</text>
<g transform="translate(202.20,553.30) rotate(0)"><circle cx="0" cy="0" r="4" fill="white" stroke="#111" stroke-width="1"/><path d="M-2.2,-3.2 L4,0 L-2.2,3.2 Z" fill="#111"/></g>
<text x="201.60" y="546.00" font-size="6.8" text-anchor="middle" fill="#333" font-style="italic">32</text>
<g transform="translate(212.70,553.30) rotate(180)"><path d="M-3.3,0 L3.3,-3.0 L3.3,3.0 Z" fill="white" stroke="#111" stroke-width="0.9"/><path d="M3.9,-3.3 V3.3" stroke="#111" stroke-width="0.9"/></g>
<g transform="translate(224.40,553.30) rotate(0)"><path d="M-6.6,-3 L0,0 L-6.6,3 Z" fill="white" stroke="#111" stroke-width="0.9"/><path d="M6.6,-3.2 L0,0 L6.6,3.2 Z" fill="#111" stroke="#111" stroke-width="0.9"/></g>
<text x="224.00" y="548.00" font-size="6.8" text-anchor="middle" fill="#333" font-style="italic">26</text>
<g transform="translate(246.00,553.30) rotate(0)"><path d="M-5.35,-3.0 L0,0 L-5.35,3.0 Z M5.35,-3.0 L0,0 L5.35,3.0 Z" fill="white" stroke="#111" stroke-width="0.9"/><path d="M-6.55,-3.5 V3.5 M6.55,-3.5 V3.5" stroke="#111" stroke-width="0.9" stroke-width="1.3"/></g>
<text x="248.50" y="548.00" font-size="6.8" text-anchor="middle" fill="#333" font-style="italic">31</text>
<g transform="translate(236.00,532.50) rotate(90)"><path d="M-5.3,-3.0 L0,0 L-5.3,3.0 Z M5.3,-3.0 L0,0 L5.3,3.0 Z" fill="white" stroke="#111" stroke-width="0.9"/><path d="M-6.5,-3.5 V3.5 M6.5,-3.5 V3.5" stroke="#111" stroke-width="0.9" stroke-width="1.3"/></g>
<text x="248.50" y="535.50" font-size="6.8" text-anchor="middle" fill="#333" font-style="italic">31</text>
<g transform="translate(229.00,567.80) rotate(0)"><path d="M-5.35,-3.0 L0,0 L-5.35,3.0 Z M5.35,-3.0 L0,0 L5.35,3.0 Z" fill="white" stroke="#111" stroke-width="0.9"/><path d="M-6.55,-3.5 V3.5 M6.55,-3.5 V3.5" stroke="#111" stroke-width="0.9" stroke-width="1.3"/></g>
<text x="229.00" y="584.00" font-size="6.8" text-anchor="middle" fill="#333" font-style="italic">31</text>
<text x="190.00" y="577.00" font-size="6.8" text-anchor="middle" fill="#333" font-style="italic">Ду25</text>
<path d="M258.5,552 H264 M261.2,552 V555" stroke="#222" stroke-width="1"/>
<path d="M301.3,488 Q301.3,482 309.3,482 Q317.3,482 317.3,488 V510.5 Q317.3,516.6 309.3,516.6 Q301.3,516.6 301.3,510.5 Z" fill="white" stroke="#222" stroke-width="1"/>
<line x1="301.30" y1="490.30" x2="317.30" y2="490.30" stroke="#555" stroke-width="0.7"/>
<line x1="301.30" y1="501.60" x2="317.30" y2="501.60" stroke="#555" stroke-width="0.7"/>
<line x1="301.30" y1="510.50" x2="317.30" y2="510.50" stroke="#555" stroke-width="0.7"/>
<rect x="315.3" y="493" width="2.8" height="12" fill="white" stroke="#222" stroke-width="0.9"/>
<path d="M304,482.5 L300.5,477.5 M298.8,478.5 L302,476.5" stroke="#222" stroke-width="1.2"/>
<text x="292.00" y="501.00" font-size="6.8" text-anchor="middle" fill="#333" font-style="italic">29</text>
<g transform="translate(308.40,531.00) rotate(90)"><path d="M-4.8999999999999995,-3.0 L0,0 L-4.8999999999999995,3.0 Z M4.8999999999999995,-3.0 L0,0 L4.8999999999999995,3.0 Z" fill="white" stroke="#111" stroke-width="0.9"/><path d="M-6.1,-3.5 V3.5 M6.1,-3.5 V3.5" stroke="#111" stroke-width="0.9" stroke-width="1.3"/></g>
<text x="318.00" y="534.50" font-size="6.8" text-anchor="middle" fill="#333" font-style="italic">28</text>
<text x="328.00" y="551.50" font-size="6.8" text-anchor="middle" fill="#333" font-style="italic">Ду25</text>
<text x="552.00" y="97.25" font-size="5.6" text-anchor="middle" fill="#555" font-style="italic">1</text>
<text x="568.60" y="93.65" font-size="5.2" text-anchor="start" fill="#666" font-style="italic" textLength="196.8" lengthAdjust="spacing">Чиллер с воздушным охлаждением (Q=601,1 кВт, Т=5/10 С,</text>
<text x="568.60" y="100.65" font-size="5.2" text-anchor="start" fill="#666" font-style="italic" textLength="106.4" lengthAdjust="spacing">Тнар=32 С, R134a, гликоль 30%)</text>
<text x="874.50" y="97.25" font-size="5.5" text-anchor="start" fill="#666" font-style="italic">TCAEBY</text>
<text x="552.00" y="110.65" font-size="5.6" text-anchor="middle" fill="#555" font-style="italic">2</text>
<text x="568.60" y="110.65" font-size="5.2" text-anchor="start" fill="#666" font-style="italic" textLength="83.1" lengthAdjust="spacing">Переход Э-219х6-159х4,5</text>
<text x="818.80" y="110.65" font-size="5.2" text-anchor="middle" fill="#666" font-style="italic" textLength="56.0" lengthAdjust="spacing">ГОСТ 17378-2001</text>
<text x="885.00" y="110.65" font-size="6" text-anchor="middle" fill="#666" font-style="italic">–</text>
<text x="552.00" y="119.03" font-size="5.6" text-anchor="middle" fill="#555" font-style="italic">3</text>
<text x="568.60" y="119.03" font-size="5.2" text-anchor="start" fill="#666" font-style="italic" textLength="107.4" lengthAdjust="spacing">Гибкая вставка фланцевая Ру1,0</text>
<text x="818.80" y="119.03" font-size="6" text-anchor="middle" fill="#666" font-style="italic">–</text>
<text x="874.50" y="119.03" font-size="5.5" text-anchor="start" fill="#666" font-style="italic">АС 1</text>
<text x="552.00" y="127.28" font-size="5.6" text-anchor="middle" fill="#555" font-style="italic">4</text>
<text x="568.60" y="127.28" font-size="5.2" text-anchor="start" fill="#666" font-style="italic" textLength="77.0" lengthAdjust="spacing">Реле расхода (протока)</text>
<text x="818.80" y="127.28" font-size="6" text-anchor="middle" fill="#666" font-style="italic">–</text>
<text x="885.00" y="127.28" font-size="6" text-anchor="middle" fill="#666" font-style="italic">–</text>
<text x="552.00" y="135.65" font-size="5.6" text-anchor="middle" fill="#555" font-style="italic">5</text>
<text x="568.60" y="135.65" font-size="5.2" text-anchor="start" fill="#666" font-style="italic" textLength="102.4" lengthAdjust="spacing">Кран шаровый Ду 15 для слива</text>
<text x="818.80" y="135.65" font-size="6" text-anchor="middle" fill="#666" font-style="italic">–</text>
<text x="874.50" y="135.65" font-size="5.5" text-anchor="start" fill="#666" font-style="italic">106 65</text>
<text x="552.00" y="144.03" font-size="5.6" text-anchor="middle" fill="#555" font-style="italic">6</text>
<text x="568.60" y="144.03" font-size="5.2" text-anchor="start" fill="#666" font-style="italic" textLength="123.4" lengthAdjust="spacing">Манометр 0-0,6 МПа d63. В комплекте с:</text>
<text x="818.80" y="144.03" font-size="6" text-anchor="middle" fill="#666" font-style="italic">–</text>
<text x="874.50" y="144.03" font-size="5.5" text-anchor="start" fill="#666" font-style="italic">111.1</text>
<text x="649.00" y="152.53" font-size="5.2" text-anchor="start" fill="#666" font-style="italic" textLength="122.0" lengthAdjust="spacing">– Кран трехходовой для манометра</text>
<text x="818.80" y="152.53" font-size="6" text-anchor="middle" fill="#666" font-style="italic">–</text>
<text x="874.50" y="152.53" font-size="5.5" text-anchor="start" fill="#666" font-style="italic">910.10/9</text>
<text x="704.00" y="161.15" font-size="5.2" text-anchor="start" fill="#666" font-style="italic" textLength="67.0" lengthAdjust="spacing">– Трехходовая трубка</text>
<text x="818.80" y="161.15" font-size="6" text-anchor="middle" fill="#666" font-style="italic">–</text>
<text x="874.50" y="161.15" font-size="5.5" text-anchor="start" fill="#666" font-style="italic">910.1</text>
<text x="552.00" y="172.65" font-size="5.6" text-anchor="middle" fill="#555" font-style="italic">7</text>
<text x="568.60" y="169.05" font-size="5.2" text-anchor="start" fill="#666" font-style="italic" textLength="200.4" lengthAdjust="spacing">Термометр расширения Тип Ф3211(угловая конструкция 90°)</text>
<text x="568.60" y="176.05" font-size="5.2" text-anchor="start" fill="#666" font-style="italic" textLength="26.9" lengthAdjust="spacing">–30...50°</text>
<text x="818.80" y="172.65" font-size="6" text-anchor="middle" fill="#666" font-style="italic">–</text>
<text x="874.50" y="172.65" font-size="5.5" text-anchor="start" fill="#666" font-style="italic">3502</text>
<text x="552.00" y="187.15" font-size="5.6" text-anchor="middle" fill="#555" font-style="italic">8</text>
<text x="568.60" y="183.55" font-size="5.2" text-anchor="start" fill="#666" font-style="italic" textLength="180.9" lengthAdjust="spacing">Дисковый поворотный затвор Ду 200, в комплекте с</text>
<text x="568.60" y="190.55" font-size="5.2" text-anchor="start" fill="#666" font-style="italic" textLength="69.4" lengthAdjust="spacing">ответными фланцами</text>
<text x="818.80" y="187.15" font-size="6" text-anchor="middle" fill="#666" font-style="italic">–</text>
<text x="874.50" y="187.15" font-size="5.5" text-anchor="start" fill="#666" font-style="italic">104 83</text>
<text x="552.00" y="202.05" font-size="5.6" text-anchor="middle" fill="#555" font-style="italic">9</text>
<text x="568.60" y="198.45" font-size="5.2" text-anchor="start" fill="#666" font-style="italic" textLength="200.4" lengthAdjust="spacing">Тройник фланцевый 219х219х219, в комплекте с ответными</text>
<text x="568.60" y="205.45" font-size="5.2" text-anchor="start" fill="#666" font-style="italic" textLength="30.4" lengthAdjust="spacing">фланцами</text>
<text x="818.80" y="202.05" font-size="5.2" text-anchor="middle" fill="#666" font-style="italic" textLength="56.0" lengthAdjust="spacing">ГОСТ 17378-2001</text>
<text x="885.00" y="202.05" font-size="6" text-anchor="middle" fill="#666" font-style="italic">–</text>
<text x="552.00" y="214.05" font-size="5.6" text-anchor="middle" fill="#555" font-style="italic">10</text>
<text x="568.60" y="214.05" font-size="5.2" text-anchor="start" fill="#666" font-style="italic" textLength="194.4" lengthAdjust="spacing">Автоматический воздухоотводчик, Ду 3/4, в комплекте с:</text>
<text x="818.80" y="214.05" font-size="6" text-anchor="middle" fill="#666" font-style="italic">–</text>
<text x="874.50" y="214.05" font-size="5.5" text-anchor="start" fill="#666" font-style="italic">108 83</text>
<text x="613.80" y="223.15" font-size="5.2" text-anchor="start" fill="#666" font-style="italic" textLength="157.2" lengthAdjust="spacing">– кран шаровый для воздухоотводчика Ду 3/4</text>
<text x="818.80" y="223.15" font-size="6" text-anchor="middle" fill="#666" font-style="italic">–</text>
<text x="874.50" y="223.15" font-size="5.5" text-anchor="start" fill="#666" font-style="italic">107 61</text>
<text x="552.00" y="235.40" font-size="5.6" text-anchor="middle" fill="#555" font-style="italic">11</text>
<text x="568.60" y="231.80" font-size="5.2" text-anchor="start" fill="#666" font-style="italic" textLength="167.4" lengthAdjust="spacing">Вентиль балансировочный Ду 200, в комплекте с</text>
<text x="568.60" y="238.80" font-size="5.2" text-anchor="start" fill="#666" font-style="italic" textLength="70.9" lengthAdjust="spacing">ответными фланцами</text>
<text x="818.80" y="235.40" font-size="6" text-anchor="middle" fill="#666" font-style="italic">–</text>
<text x="874.50" y="235.40" font-size="5.5" text-anchor="start" fill="#666" font-style="italic">106 26</text>
<text x="552.00" y="250.40" font-size="5.6" text-anchor="middle" fill="#555" font-style="italic">12</text>
<text x="568.60" y="246.80" font-size="5.2" text-anchor="start" fill="#666" font-style="italic" textLength="179.4" lengthAdjust="spacing">Фильтр сетчатый фланцевый Ду 200, в комплекте с</text>
<text x="568.60" y="253.80" font-size="5.2" text-anchor="start" fill="#666" font-style="italic" textLength="70.9" lengthAdjust="spacing">ответными фланцами</text>
<text x="818.80" y="250.40" font-size="6" text-anchor="middle" fill="#666" font-style="italic">–</text>
<text x="874.50" y="250.40" font-size="5.5" text-anchor="start" fill="#666" font-style="italic">112 20</text>
<text x="552.00" y="262.10" font-size="5.6" text-anchor="middle" fill="#555" font-style="italic">13</text>
<text x="631.00" y="262.10" font-size="5.2" text-anchor="start" fill="#666" font-style="italic" textLength="78.0" lengthAdjust="spacing">Переход Э-219х6-273х6</text>
<text x="818.80" y="262.10" font-size="5.2" text-anchor="middle" fill="#666" font-style="italic" textLength="56.0" lengthAdjust="spacing">ГОСТ 17378-2001</text>
<text x="885.00" y="262.10" font-size="6" text-anchor="middle" fill="#666" font-style="italic">–</text>
<text x="552.00" y="273.60" font-size="5.6" text-anchor="middle" fill="#555" font-style="italic">14</text>
<text x="568.60" y="270.00" font-size="5.2" text-anchor="start" fill="#666" font-style="italic" textLength="166.2" lengthAdjust="spacing">Тройник фланцевый 273х273х273, в комплекте с</text>
<text x="568.60" y="277.00" font-size="5.2" text-anchor="start" fill="#666" font-style="italic" textLength="70.9" lengthAdjust="spacing">ответными фланцами</text>
<text x="818.80" y="273.60" font-size="5.2" text-anchor="middle" fill="#666" font-style="italic" textLength="56.0" lengthAdjust="spacing">ГОСТ 17378-2001</text>
<text x="885.00" y="273.60" font-size="6" text-anchor="middle" fill="#666" font-style="italic">–</text>
<text x="552.00" y="288.05" font-size="5.6" text-anchor="middle" fill="#555" font-style="italic">15</text>
<text x="568.60" y="284.45" font-size="5.2" text-anchor="start" fill="#666" font-style="italic" textLength="179.4" lengthAdjust="spacing">Клапан обратный Ду 200, в комплекте с ответными</text>
<text x="568.60" y="291.45" font-size="5.2" text-anchor="start" fill="#666" font-style="italic" textLength="30.4" lengthAdjust="spacing">фланцами</text>
<text x="818.80" y="288.05" font-size="6" text-anchor="middle" fill="#666" font-style="italic">–</text>
<text x="874.50" y="288.05" font-size="5.5" text-anchor="start" fill="#666" font-style="italic">106 35</text>
<text x="552.00" y="299.65" font-size="5.6" text-anchor="middle" fill="#555" font-style="italic">16</text>
<text x="631.00" y="299.65" font-size="5.2" text-anchor="start" fill="#666" font-style="italic" textLength="78.0" lengthAdjust="spacing">Переход Э-219х6-108х4</text>
<text x="818.80" y="299.65" font-size="5.2" text-anchor="middle" fill="#666" font-style="italic" textLength="56.0" lengthAdjust="spacing">ГОСТ 17378-2001</text>
<text x="885.00" y="299.65" font-size="6" text-anchor="middle" fill="#666" font-style="italic">0</text>
<text x="552.00" y="312.00" font-size="5.6" text-anchor="middle" fill="#555" font-style="italic">17</text>
<text x="568.60" y="308.40" font-size="5.2" text-anchor="start" fill="#666" font-style="italic" textLength="199.2" lengthAdjust="spacing">Циркуляционный насос гликолевого контура   Grundfos TPE</text>
<text x="585.70" y="315.40" font-size="5.2" text-anchor="start" fill="#666" font-style="italic" textLength="167.3" lengthAdjust="spacing">100-390/2, в комплекте с ответными фланцами</text>
<text x="818.80" y="312.00" font-size="6" text-anchor="middle" fill="#666" font-style="italic">–</text>
<text x="874.50" y="312.00" font-size="5.5" text-anchor="start" fill="#666" font-style="italic">TPE 100-</text>
<text x="552.00" y="328.00" font-size="5.6" text-anchor="middle" fill="#555" font-style="italic">18</text>
<text x="584.40" y="324.40" font-size="5.2" text-anchor="start" fill="#666" font-style="italic" textLength="171.2" lengthAdjust="spacing">Аккумулирующая емкость V=3000 л, в комплекте с</text>
<text x="633.30" y="331.40" font-size="5.2" text-anchor="start" fill="#666" font-style="italic" textLength="72.2" lengthAdjust="spacing">ответными фланцами</text>
<text x="818.80" y="328.00" font-size="6" text-anchor="middle" fill="#666" font-style="italic">–</text>
<text x="874.50" y="324.40" font-size="5.5" text-anchor="start" fill="#666" font-style="italic">V/VK/VK</text>
<text x="874.50" y="331.40" font-size="5.5" text-anchor="start" fill="#666" font-style="italic">вертикал</text>
<text x="552.00" y="339.70" font-size="5.6" text-anchor="middle" fill="#555" font-style="italic">19</text>
<text x="629.70" y="339.70" font-size="5.2" text-anchor="start" fill="#666" font-style="italic" textLength="79.3" lengthAdjust="spacing">Переход Э-273х6-108х4</text>
<text x="818.80" y="339.70" font-size="5.2" text-anchor="middle" fill="#666" font-style="italic" textLength="56.0" lengthAdjust="spacing">ГОСТ 17378-2001</text>
<text x="885.00" y="339.70" font-size="6" text-anchor="middle" fill="#666" font-style="italic">–</text>
<text x="552.00" y="350.60" font-size="5.6" text-anchor="middle" fill="#555" font-style="italic">20</text>
<text x="568.60" y="347.00" font-size="5.2" text-anchor="start" fill="#666" font-style="italic" textLength="180.9" lengthAdjust="spacing">Дисковый поворотный затвор Ду 250, в комплекте с</text>
<text x="568.60" y="354.00" font-size="5.2" text-anchor="start" fill="#666" font-style="italic" textLength="70.9" lengthAdjust="spacing">ответными фланцами</text>
<text x="818.80" y="350.60" font-size="6" text-anchor="middle" fill="#666" font-style="italic">–</text>
<text x="874.50" y="350.60" font-size="5.5" text-anchor="start" fill="#666" font-style="italic">104 90</text>
<text x="552.00" y="366.05" font-size="5.6" text-anchor="middle" fill="#555" font-style="italic">21</text>
<text x="568.60" y="362.45" font-size="5.2" text-anchor="start" fill="#666" font-style="italic" textLength="178.4" lengthAdjust="spacing">Фильтр сетчатый фланцевый Ду 250, в комплекте с</text>
<text x="568.60" y="369.45" font-size="5.2" text-anchor="start" fill="#666" font-style="italic" textLength="70.9" lengthAdjust="spacing">ответными фланцами</text>
<text x="818.80" y="366.05" font-size="6" text-anchor="middle" fill="#666" font-style="italic">–</text>
<text x="874.50" y="366.05" font-size="5.5" text-anchor="start" fill="#666" font-style="italic">112 20</text>
<text x="552.00" y="378.05" font-size="5.6" text-anchor="middle" fill="#555" font-style="italic">22</text>
<text x="629.70" y="378.05" font-size="5.2" text-anchor="start" fill="#666" font-style="italic" textLength="79.3" lengthAdjust="spacing">Переход Э-273х6-108х4</text>
<text x="818.80" y="378.05" font-size="5.2" text-anchor="middle" fill="#666" font-style="italic" textLength="56.0" lengthAdjust="spacing">ГОСТ 17378-2001</text>
<text x="885.00" y="378.05" font-size="6" text-anchor="middle" fill="#666" font-style="italic">–</text>
<text x="552.00" y="386.20" font-size="5.6" text-anchor="middle" fill="#555" font-style="italic">23</text>
<text x="600.30" y="386.20" font-size="5.2" text-anchor="start" fill="#666" font-style="italic" textLength="138.2" lengthAdjust="spacing">Теплообменник пластинчатый Q=1,2 МВт</text>
<text x="818.80" y="386.20" font-size="6" text-anchor="middle" fill="#666" font-style="italic">0</text>
<text x="885.00" y="386.20" font-size="6" text-anchor="middle" fill="#666" font-style="italic">0</text>
<text x="552.00" y="398.20" font-size="5.6" text-anchor="middle" fill="#555" font-style="italic">24</text>
<text x="571.00" y="394.60" font-size="5.2" text-anchor="start" fill="#666" font-style="italic" textLength="196.8" lengthAdjust="spacing">Циркуляционный насос контура холодоснабжения  Grundfos</text>
<text x="579.60" y="401.60" font-size="5.2" text-anchor="start" fill="#666" font-style="italic" textLength="180.9" lengthAdjust="spacing">TPE 100-390/2, в комплекте с ответными фланцами</text>
<text x="818.80" y="398.20" font-size="6" text-anchor="middle" fill="#666" font-style="italic">–</text>
<text x="874.50" y="398.20" font-size="5.5" text-anchor="start" fill="#666" font-style="italic">TPE 100-</text>
<text x="552.00" y="413.40" font-size="5.6" text-anchor="middle" fill="#555" font-style="italic">25</text>
<text x="568.60" y="409.80" font-size="5.2" text-anchor="start" fill="#666" font-style="italic" textLength="174.8" lengthAdjust="spacing">Фильтр сетчатый фланцевый Ду 25, в комплекте с</text>
<text x="568.60" y="416.80" font-size="5.2" text-anchor="start" fill="#666" font-style="italic" textLength="70.9" lengthAdjust="spacing">ответными фланцами</text>
<text x="818.80" y="413.40" font-size="6" text-anchor="middle" fill="#666" font-style="italic">–</text>
<text x="874.50" y="413.40" font-size="5.5" text-anchor="start" fill="#666" font-style="italic">112 20</text>
<text x="552.00" y="428.05" font-size="5.6" text-anchor="middle" fill="#555" font-style="italic">26</text>
<text x="568.60" y="428.05" font-size="5.2" text-anchor="start" fill="#666" font-style="italic" textLength="157.7" lengthAdjust="spacing">Клапан обратный Ду 25, с косой врезкой ВР 1"</text>
<text x="818.80" y="428.05" font-size="6" text-anchor="middle" fill="#666" font-style="italic">–</text>
<text x="874.50" y="428.05" font-size="5.5" text-anchor="start" fill="#666" font-style="italic">107 20</text>
<text x="552.00" y="439.70" font-size="5.6" text-anchor="middle" fill="#555" font-style="italic">27</text>
<text x="586.90" y="439.70" font-size="5.2" text-anchor="start" fill="#666" font-style="italic" textLength="167.5" lengthAdjust="spacing">Клапан с электромагнитным приводом Ру1,6 Ду15</text>
<text x="818.80" y="439.70" font-size="6" text-anchor="middle" fill="#666" font-style="italic">0</text>
<text x="874.50" y="439.70" font-size="5.5" text-anchor="start" fill="#666" font-style="italic">SC 6 238</text>
<text x="552.00" y="449.10" font-size="5.6" text-anchor="middle" fill="#555" font-style="italic">28</text>
<text x="612.60" y="449.10" font-size="5.2" text-anchor="start" fill="#666" font-style="italic" textLength="114.9" lengthAdjust="spacing">Быстроразъемное соединение Ду25</text>
<text x="874.50" y="449.10" font-size="5.5" text-anchor="start" fill="#666" font-style="italic">761 31</text>
<text x="552.00" y="458.95" font-size="5.6" text-anchor="middle" fill="#555" font-style="italic">29</text>
<text x="586.90" y="458.95" font-size="5.2" text-anchor="start" fill="#666" font-style="italic" textLength="166.1" lengthAdjust="spacing">Мембранный расширительный бак на 400 литров</text>
<text x="874.50" y="458.95" font-size="5.5" text-anchor="start" fill="#666" font-style="italic">721 60</text>
<text x="552.00" y="468.40" font-size="5.6" text-anchor="middle" fill="#555" font-style="italic">30</text>
<text x="586.90" y="468.40" font-size="5.2" text-anchor="start" fill="#666" font-style="italic" textLength="166.1" lengthAdjust="spacing">Мембранный расширительный бак на 400 литров</text>
<text x="874.50" y="468.40" font-size="5.5" text-anchor="start" fill="#666" font-style="italic">721 90</text>
<text x="552.00" y="477.85" font-size="5.6" text-anchor="middle" fill="#555" font-style="italic">31</text>
<text x="612.60" y="477.85" font-size="5.2" text-anchor="start" fill="#666" font-style="italic" textLength="114.9" lengthAdjust="spacing">Вентиль запорный муфтовый Ру1,6</text>
<text x="874.50" y="477.85" font-size="5.5" text-anchor="start" fill="#666" font-style="italic">V 20</text>
<text x="552.00" y="487.70" font-size="5.6" text-anchor="middle" fill="#555" font-style="italic">32</text>
<text x="608.90" y="487.70" font-size="5.2" text-anchor="start" fill="#666" font-style="italic" textLength="122.1" lengthAdjust="spacing">Насос для подпитки гликоля CR 1-7</text>
<text x="874.50" y="487.70" font-size="5.5" text-anchor="start" fill="#666" font-style="italic">CR 1-</text>
<text x="552.00" y="497.10" font-size="5.6" text-anchor="middle" fill="#555" font-style="italic">33</text>
<text x="578.30" y="497.10" font-size="5.2" text-anchor="start" fill="#666" font-style="italic" textLength="184.7" lengthAdjust="spacing">Безнапорный бак для приготовления гликолевой смеси</text>
<text x="874.50" y="497.10" font-size="5.5" text-anchor="start" fill="#666" font-style="italic">VB 150</text>
<text x="552.00" y="506.55" font-size="5.6" text-anchor="middle" fill="#555" font-style="italic">34</text>
<text x="551.00" y="73.30" font-size="5.2" text-anchor="middle" fill="#666" font-style="italic" textLength="18.5" lengthAdjust="spacing">номер</text>
<text x="593.50" y="73.30" font-size="5.2" text-anchor="start" fill="#666" font-style="italic" textLength="152.0" lengthAdjust="spacing">Наименование и техническая характеристика</text>
<text x="780.00" y="70.50" font-size="5.2" text-anchor="start" fill="#666" font-style="italic" textLength="78.0" lengthAdjust="spacing">Тип, марка оборудования;</text>
<text x="774.00" y="77.30" font-size="5.2" text-anchor="start" fill="#666" font-style="italic" textLength="90.0" lengthAdjust="spacing">документа, опросного листа</text>
<text x="874.70" y="62.50" font-size="5.2" text-anchor="start" fill="#666" font-style="italic" textLength="26.0" lengthAdjust="spacing">Код обо</text>
<text x="880.50" y="69.00" font-size="5.2" text-anchor="start" fill="#666" font-style="italic" textLength="22.0" lengthAdjust="spacing">оборудо</text>
<text x="881.00" y="75.80" font-size="5.2" text-anchor="start" fill="#666" font-style="italic" textLength="20.0" lengthAdjust="spacing">изделия</text>
<text x="876.00" y="82.50" font-size="5.2" text-anchor="start" fill="#666" font-style="italic" textLength="26.0" lengthAdjust="spacing">материала</text>
<text x="747.00" y="55.30" font-size="7.4" text-anchor="start" fill="#444" font-style="normal" textLength="58.0" lengthAdjust="spacing">Спецификация</text>
<text x="810.00" y="55.30" font-size="7.4" text-anchor="start" fill="#444" font-style="normal" textLength="57.0" lengthAdjust="spacing">оборудования</text>
<text x="872.50" y="55.30" font-size="7.4" text-anchor="start" fill="#444" font-style="normal" textLength="5.0" lengthAdjust="spacing">и</text>
<text x="884.00" y="55.30" font-size="7.4" text-anchor="start" fill="#444" font-style="normal" textLength="51.0" lengthAdjust="spacing">материалов</text>
</svg></body></html>
